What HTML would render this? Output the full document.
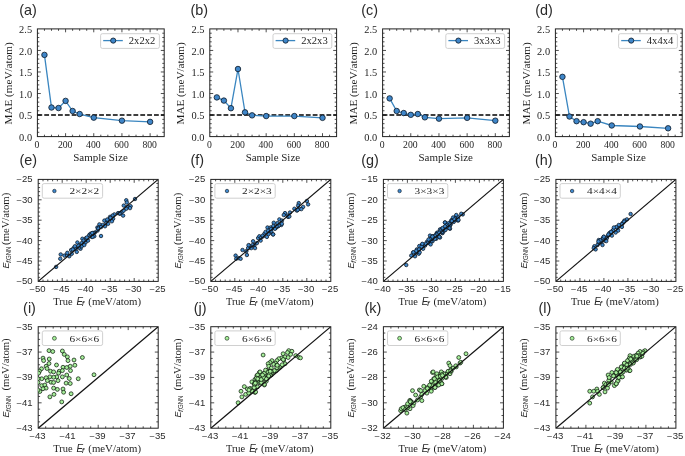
<!DOCTYPE html>
<html><head><meta charset="utf-8"><title>Figure</title>
<style>html,body{margin:0;padding:0;background:#fff;}svg{display:block;filter:blur(0.3px);}</style></head>
<body><svg width="685" height="456" viewBox="0 0 685 456">
<rect width="685" height="456" fill="#fff"/>
<path d="M65.58 136.6v-3.4M65.58 28.9v3.4M93.76 136.6v-3.4M93.76 28.9v3.4M121.93 136.6v-3.4M121.93 28.9v3.4M150.11 136.6v-3.4M150.11 28.9v3.4M44.44 136.6v-1.9M44.44 28.9v1.9M51.49 136.6v-1.9M51.49 28.9v1.9M58.53 136.6v-1.9M58.53 28.9v1.9M72.62 136.6v-1.9M72.62 28.9v1.9M79.67 136.6v-1.9M79.67 28.9v1.9M86.71 136.6v-1.9M86.71 28.9v1.9M100.8 136.6v-1.9M100.8 28.9v1.9M107.84 136.6v-1.9M107.84 28.9v1.9M114.89 136.6v-1.9M114.89 28.9v1.9M128.98 136.6v-1.9M128.98 28.9v1.9M136.02 136.6v-1.9M136.02 28.9v1.9M143.07 136.6v-1.9M143.07 28.9v1.9M157.16 136.6v-1.9M157.16 28.9v1.9M37.4 115.06h3.4M164.2 115.06h-3.4M37.4 93.52h3.4M164.2 93.52h-3.4M37.4 71.98h3.4M164.2 71.98h-3.4M37.4 50.44h3.4M164.2 50.44h-3.4M37.4 132.29h1.9M164.2 132.29h-1.9M37.4 127.98h1.9M164.2 127.98h-1.9M37.4 123.68h1.9M164.2 123.68h-1.9M37.4 119.37h1.9M164.2 119.37h-1.9M37.4 110.75h1.9M164.2 110.75h-1.9M37.4 106.44h1.9M164.2 106.44h-1.9M37.4 102.14h1.9M164.2 102.14h-1.9M37.4 97.83h1.9M164.2 97.83h-1.9M37.4 89.21h1.9M164.2 89.21h-1.9M37.4 84.9h1.9M164.2 84.9h-1.9M37.4 80.6h1.9M164.2 80.6h-1.9M37.4 76.29h1.9M164.2 76.29h-1.9M37.4 67.67h1.9M164.2 67.67h-1.9M37.4 63.36h1.9M164.2 63.36h-1.9M37.4 59.06h1.9M164.2 59.06h-1.9M37.4 54.75h1.9M164.2 54.75h-1.9M37.4 46.13h1.9M164.2 46.13h-1.9M37.4 41.82h1.9M164.2 41.82h-1.9M37.4 37.52h1.9M164.2 37.52h-1.9M37.4 33.21h1.9M164.2 33.21h-1.9" stroke="#222" stroke-width="0.8" fill="none"/>
<rect x="37.4" y="28.9" width="126.8" height="107.7" fill="none" stroke="#222" stroke-width="1.0"/>
<line x1="37.4" y1="115.06" x2="164.2" y2="115.06" stroke="#000" stroke-width="1.45" stroke-dasharray="4.8 2.06"/>
<polyline points="44.44,54.88 51.49,107.52 58.53,108.04 65.58,100.89 72.62,111.01 79.67,114.03 93.76,117.64 121.93,120.66 150.11,121.87" fill="none" stroke="#3a86c0" stroke-width="1.3"/>
<circle cx="44.44" cy="54.88" r="2.75" fill="#3f86c9" stroke="#0b1826" stroke-width="0.8"/>
<circle cx="51.49" cy="107.52" r="2.75" fill="#3f86c9" stroke="#0b1826" stroke-width="0.8"/>
<circle cx="58.53" cy="108.04" r="2.75" fill="#3f86c9" stroke="#0b1826" stroke-width="0.8"/>
<circle cx="65.58" cy="100.89" r="2.75" fill="#3f86c9" stroke="#0b1826" stroke-width="0.8"/>
<circle cx="72.62" cy="111.01" r="2.75" fill="#3f86c9" stroke="#0b1826" stroke-width="0.8"/>
<circle cx="79.67" cy="114.03" r="2.75" fill="#3f86c9" stroke="#0b1826" stroke-width="0.8"/>
<circle cx="93.76" cy="117.64" r="2.75" fill="#3f86c9" stroke="#0b1826" stroke-width="0.8"/>
<circle cx="121.93" cy="120.66" r="2.75" fill="#3f86c9" stroke="#0b1826" stroke-width="0.8"/>
<circle cx="150.11" cy="121.87" r="2.75" fill="#3f86c9" stroke="#0b1826" stroke-width="0.8"/>
<rect x="100.6" y="33.7" width="58.8" height="14.7" rx="1.8" fill="#fff" fill-opacity="0.85" stroke="#c8c8c8" stroke-width="0.85"/>
<line x1="103.2" y1="40.6" x2="122.8" y2="40.6" stroke="#3a86c0" stroke-width="1.3"/>
<circle cx="113.2" cy="40.6" r="2.6" fill="#3f86c9" stroke="#0b1826" stroke-width="0.8"/>
<text x="128.8" y="43.6" font-family="'Liberation Serif', serif" font-size="9.6" text-anchor="start" fill="#1e1e1e" textLength="26.5" lengthAdjust="spacingAndGlyphs" >2x2x2</text>
<text x="37" y="147.7" font-family="'Liberation Serif', serif" font-size="9.3" text-anchor="middle" fill="#1e1e1e" textLength="4.85" lengthAdjust="spacingAndGlyphs" >0</text>
<text x="65.18" y="147.7" font-family="'Liberation Serif', serif" font-size="9.3" text-anchor="middle" fill="#1e1e1e" textLength="14.55" lengthAdjust="spacingAndGlyphs" >200</text>
<text x="93.36" y="147.7" font-family="'Liberation Serif', serif" font-size="9.3" text-anchor="middle" fill="#1e1e1e" textLength="14.55" lengthAdjust="spacingAndGlyphs" >400</text>
<text x="121.53" y="147.7" font-family="'Liberation Serif', serif" font-size="9.3" text-anchor="middle" fill="#1e1e1e" textLength="14.55" lengthAdjust="spacingAndGlyphs" >600</text>
<text x="149.71" y="147.7" font-family="'Liberation Serif', serif" font-size="9.3" text-anchor="middle" fill="#1e1e1e" textLength="14.55" lengthAdjust="spacingAndGlyphs" >800</text>
<text x="32.1" y="140.7" font-family="'Liberation Serif', serif" font-size="9.3" text-anchor="end" fill="#1e1e1e" textLength="13" lengthAdjust="spacingAndGlyphs" >0.0</text>
<text x="32.1" y="119.16" font-family="'Liberation Serif', serif" font-size="9.3" text-anchor="end" fill="#1e1e1e" textLength="13" lengthAdjust="spacingAndGlyphs" >0.5</text>
<text x="32.1" y="97.62" font-family="'Liberation Serif', serif" font-size="9.3" text-anchor="end" fill="#1e1e1e" textLength="13" lengthAdjust="spacingAndGlyphs" >1.0</text>
<text x="32.1" y="76.08" font-family="'Liberation Serif', serif" font-size="9.3" text-anchor="end" fill="#1e1e1e" textLength="13" lengthAdjust="spacingAndGlyphs" >1.5</text>
<text x="32.1" y="54.54" font-family="'Liberation Serif', serif" font-size="9.3" text-anchor="end" fill="#1e1e1e" textLength="13" lengthAdjust="spacingAndGlyphs" >2.0</text>
<text x="32.1" y="33" font-family="'Liberation Serif', serif" font-size="9.3" text-anchor="end" fill="#1e1e1e" textLength="13" lengthAdjust="spacingAndGlyphs" >2.5</text>
<text x="100.5" y="160.9" font-family="'Liberation Serif', serif" font-size="9.8" text-anchor="middle" fill="#1e1e1e" textLength="54.5" lengthAdjust="spacingAndGlyphs" >Sample Size</text>
<g transform="translate(11.8,83.45) rotate(-90)">
<text x="0" y="0" font-family="'Liberation Serif', serif" font-size="9.4" text-anchor="middle" fill="#1e1e1e" textLength="82.2" lengthAdjust="spacingAndGlyphs" >MAE (meV/atom)</text>
</g>
<text x="19.2" y="15.3" font-family="'Liberation Sans', sans-serif" font-size="14.4" text-anchor="start" fill="#2a2a2a" >(a)</text>
<path d="M237.98 136.6v-3.4M237.98 28.9v3.4M266.16 136.6v-3.4M266.16 28.9v3.4M294.33 136.6v-3.4M294.33 28.9v3.4M322.51 136.6v-3.4M322.51 28.9v3.4M216.84 136.6v-1.9M216.84 28.9v1.9M223.89 136.6v-1.9M223.89 28.9v1.9M230.93 136.6v-1.9M230.93 28.9v1.9M245.02 136.6v-1.9M245.02 28.9v1.9M252.07 136.6v-1.9M252.07 28.9v1.9M259.11 136.6v-1.9M259.11 28.9v1.9M273.2 136.6v-1.9M273.2 28.9v1.9M280.24 136.6v-1.9M280.24 28.9v1.9M287.29 136.6v-1.9M287.29 28.9v1.9M301.38 136.6v-1.9M301.38 28.9v1.9M308.42 136.6v-1.9M308.42 28.9v1.9M315.47 136.6v-1.9M315.47 28.9v1.9M329.56 136.6v-1.9M329.56 28.9v1.9M209.8 115.06h3.4M336.6 115.06h-3.4M209.8 93.52h3.4M336.6 93.52h-3.4M209.8 71.98h3.4M336.6 71.98h-3.4M209.8 50.44h3.4M336.6 50.44h-3.4M209.8 132.29h1.9M336.6 132.29h-1.9M209.8 127.98h1.9M336.6 127.98h-1.9M209.8 123.68h1.9M336.6 123.68h-1.9M209.8 119.37h1.9M336.6 119.37h-1.9M209.8 110.75h1.9M336.6 110.75h-1.9M209.8 106.44h1.9M336.6 106.44h-1.9M209.8 102.14h1.9M336.6 102.14h-1.9M209.8 97.83h1.9M336.6 97.83h-1.9M209.8 89.21h1.9M336.6 89.21h-1.9M209.8 84.9h1.9M336.6 84.9h-1.9M209.8 80.6h1.9M336.6 80.6h-1.9M209.8 76.29h1.9M336.6 76.29h-1.9M209.8 67.67h1.9M336.6 67.67h-1.9M209.8 63.36h1.9M336.6 63.36h-1.9M209.8 59.06h1.9M336.6 59.06h-1.9M209.8 54.75h1.9M336.6 54.75h-1.9M209.8 46.13h1.9M336.6 46.13h-1.9M209.8 41.82h1.9M336.6 41.82h-1.9M209.8 37.52h1.9M336.6 37.52h-1.9M209.8 33.21h1.9M336.6 33.21h-1.9" stroke="#222" stroke-width="0.8" fill="none"/>
<rect x="209.8" y="28.9" width="126.8" height="107.7" fill="none" stroke="#222" stroke-width="1.0"/>
<line x1="209.8" y1="115.06" x2="336.6" y2="115.06" stroke="#000" stroke-width="1.45" stroke-dasharray="4.8 2.06"/>
<polyline points="216.84,97.4 223.89,100.59 230.93,108.21 237.98,69.01 245.02,112.35 252.07,115.36 266.16,116.05 294.33,116.05 322.51,117.86" fill="none" stroke="#3a86c0" stroke-width="1.3"/>
<circle cx="216.84" cy="97.4" r="2.75" fill="#3f86c9" stroke="#0b1826" stroke-width="0.8"/>
<circle cx="223.89" cy="100.59" r="2.75" fill="#3f86c9" stroke="#0b1826" stroke-width="0.8"/>
<circle cx="230.93" cy="108.21" r="2.75" fill="#3f86c9" stroke="#0b1826" stroke-width="0.8"/>
<circle cx="237.98" cy="69.01" r="2.75" fill="#3f86c9" stroke="#0b1826" stroke-width="0.8"/>
<circle cx="245.02" cy="112.35" r="2.75" fill="#3f86c9" stroke="#0b1826" stroke-width="0.8"/>
<circle cx="252.07" cy="115.36" r="2.75" fill="#3f86c9" stroke="#0b1826" stroke-width="0.8"/>
<circle cx="266.16" cy="116.05" r="2.75" fill="#3f86c9" stroke="#0b1826" stroke-width="0.8"/>
<circle cx="294.33" cy="116.05" r="2.75" fill="#3f86c9" stroke="#0b1826" stroke-width="0.8"/>
<circle cx="322.51" cy="117.86" r="2.75" fill="#3f86c9" stroke="#0b1826" stroke-width="0.8"/>
<rect x="273" y="33.7" width="58.8" height="14.7" rx="1.8" fill="#fff" fill-opacity="0.85" stroke="#c8c8c8" stroke-width="0.85"/>
<line x1="275.6" y1="40.6" x2="295.2" y2="40.6" stroke="#3a86c0" stroke-width="1.3"/>
<circle cx="285.6" cy="40.6" r="2.6" fill="#3f86c9" stroke="#0b1826" stroke-width="0.8"/>
<text x="301.2" y="43.6" font-family="'Liberation Serif', serif" font-size="9.6" text-anchor="start" fill="#1e1e1e" textLength="26.5" lengthAdjust="spacingAndGlyphs" >2x2x3</text>
<text x="209.4" y="147.7" font-family="'Liberation Serif', serif" font-size="9.3" text-anchor="middle" fill="#1e1e1e" textLength="4.85" lengthAdjust="spacingAndGlyphs" >0</text>
<text x="237.58" y="147.7" font-family="'Liberation Serif', serif" font-size="9.3" text-anchor="middle" fill="#1e1e1e" textLength="14.55" lengthAdjust="spacingAndGlyphs" >200</text>
<text x="265.76" y="147.7" font-family="'Liberation Serif', serif" font-size="9.3" text-anchor="middle" fill="#1e1e1e" textLength="14.55" lengthAdjust="spacingAndGlyphs" >400</text>
<text x="293.93" y="147.7" font-family="'Liberation Serif', serif" font-size="9.3" text-anchor="middle" fill="#1e1e1e" textLength="14.55" lengthAdjust="spacingAndGlyphs" >600</text>
<text x="322.11" y="147.7" font-family="'Liberation Serif', serif" font-size="9.3" text-anchor="middle" fill="#1e1e1e" textLength="14.55" lengthAdjust="spacingAndGlyphs" >800</text>
<text x="204.5" y="140.7" font-family="'Liberation Serif', serif" font-size="9.3" text-anchor="end" fill="#1e1e1e" textLength="13" lengthAdjust="spacingAndGlyphs" >0.0</text>
<text x="204.5" y="119.16" font-family="'Liberation Serif', serif" font-size="9.3" text-anchor="end" fill="#1e1e1e" textLength="13" lengthAdjust="spacingAndGlyphs" >0.5</text>
<text x="204.5" y="97.62" font-family="'Liberation Serif', serif" font-size="9.3" text-anchor="end" fill="#1e1e1e" textLength="13" lengthAdjust="spacingAndGlyphs" >1.0</text>
<text x="204.5" y="76.08" font-family="'Liberation Serif', serif" font-size="9.3" text-anchor="end" fill="#1e1e1e" textLength="13" lengthAdjust="spacingAndGlyphs" >1.5</text>
<text x="204.5" y="54.54" font-family="'Liberation Serif', serif" font-size="9.3" text-anchor="end" fill="#1e1e1e" textLength="13" lengthAdjust="spacingAndGlyphs" >2.0</text>
<text x="204.5" y="33" font-family="'Liberation Serif', serif" font-size="9.3" text-anchor="end" fill="#1e1e1e" textLength="13" lengthAdjust="spacingAndGlyphs" >2.5</text>
<text x="272.9" y="160.9" font-family="'Liberation Serif', serif" font-size="9.8" text-anchor="middle" fill="#1e1e1e" textLength="54.5" lengthAdjust="spacingAndGlyphs" >Sample Size</text>
<g transform="translate(184.2,83.45) rotate(-90)">
<text x="0" y="0" font-family="'Liberation Serif', serif" font-size="9.4" text-anchor="middle" fill="#1e1e1e" textLength="82.2" lengthAdjust="spacingAndGlyphs" >MAE (meV/atom)</text>
</g>
<text x="190.4" y="15.3" font-family="'Liberation Sans', sans-serif" font-size="14.4" text-anchor="start" fill="#2a2a2a" >(b)</text>
<path d="M410.78 136.6v-3.4M410.78 28.9v3.4M438.96 136.6v-3.4M438.96 28.9v3.4M467.13 136.6v-3.4M467.13 28.9v3.4M495.31 136.6v-3.4M495.31 28.9v3.4M389.64 136.6v-1.9M389.64 28.9v1.9M396.69 136.6v-1.9M396.69 28.9v1.9M403.73 136.6v-1.9M403.73 28.9v1.9M417.82 136.6v-1.9M417.82 28.9v1.9M424.87 136.6v-1.9M424.87 28.9v1.9M431.91 136.6v-1.9M431.91 28.9v1.9M446 136.6v-1.9M446 28.9v1.9M453.04 136.6v-1.9M453.04 28.9v1.9M460.09 136.6v-1.9M460.09 28.9v1.9M474.18 136.6v-1.9M474.18 28.9v1.9M481.22 136.6v-1.9M481.22 28.9v1.9M488.27 136.6v-1.9M488.27 28.9v1.9M502.36 136.6v-1.9M502.36 28.9v1.9M382.6 115.06h3.4M509.4 115.06h-3.4M382.6 93.52h3.4M509.4 93.52h-3.4M382.6 71.98h3.4M509.4 71.98h-3.4M382.6 50.44h3.4M509.4 50.44h-3.4M382.6 132.29h1.9M509.4 132.29h-1.9M382.6 127.98h1.9M509.4 127.98h-1.9M382.6 123.68h1.9M509.4 123.68h-1.9M382.6 119.37h1.9M509.4 119.37h-1.9M382.6 110.75h1.9M509.4 110.75h-1.9M382.6 106.44h1.9M509.4 106.44h-1.9M382.6 102.14h1.9M509.4 102.14h-1.9M382.6 97.83h1.9M509.4 97.83h-1.9M382.6 89.21h1.9M509.4 89.21h-1.9M382.6 84.9h1.9M509.4 84.9h-1.9M382.6 80.6h1.9M509.4 80.6h-1.9M382.6 76.29h1.9M509.4 76.29h-1.9M382.6 67.67h1.9M509.4 67.67h-1.9M382.6 63.36h1.9M509.4 63.36h-1.9M382.6 59.06h1.9M509.4 59.06h-1.9M382.6 54.75h1.9M509.4 54.75h-1.9M382.6 46.13h1.9M509.4 46.13h-1.9M382.6 41.82h1.9M509.4 41.82h-1.9M382.6 37.52h1.9M509.4 37.52h-1.9M382.6 33.21h1.9M509.4 33.21h-1.9" stroke="#222" stroke-width="0.8" fill="none"/>
<rect x="382.6" y="28.9" width="126.8" height="107.7" fill="none" stroke="#222" stroke-width="1.0"/>
<line x1="382.6" y1="115.06" x2="509.4" y2="115.06" stroke="#000" stroke-width="1.45" stroke-dasharray="4.8 2.06"/>
<polyline points="389.64,98.39 396.69,111.01 403.73,113.04 410.78,114.84 417.82,114.03 424.87,117.34 438.96,118.64 467.13,117.86 495.31,120.66" fill="none" stroke="#3a86c0" stroke-width="1.3"/>
<circle cx="389.64" cy="98.39" r="2.75" fill="#3f86c9" stroke="#0b1826" stroke-width="0.8"/>
<circle cx="396.69" cy="111.01" r="2.75" fill="#3f86c9" stroke="#0b1826" stroke-width="0.8"/>
<circle cx="403.73" cy="113.04" r="2.75" fill="#3f86c9" stroke="#0b1826" stroke-width="0.8"/>
<circle cx="410.78" cy="114.84" r="2.75" fill="#3f86c9" stroke="#0b1826" stroke-width="0.8"/>
<circle cx="417.82" cy="114.03" r="2.75" fill="#3f86c9" stroke="#0b1826" stroke-width="0.8"/>
<circle cx="424.87" cy="117.34" r="2.75" fill="#3f86c9" stroke="#0b1826" stroke-width="0.8"/>
<circle cx="438.96" cy="118.64" r="2.75" fill="#3f86c9" stroke="#0b1826" stroke-width="0.8"/>
<circle cx="467.13" cy="117.86" r="2.75" fill="#3f86c9" stroke="#0b1826" stroke-width="0.8"/>
<circle cx="495.31" cy="120.66" r="2.75" fill="#3f86c9" stroke="#0b1826" stroke-width="0.8"/>
<rect x="445.8" y="33.7" width="58.8" height="14.7" rx="1.8" fill="#fff" fill-opacity="0.85" stroke="#c8c8c8" stroke-width="0.85"/>
<line x1="448.4" y1="40.6" x2="468" y2="40.6" stroke="#3a86c0" stroke-width="1.3"/>
<circle cx="458.4" cy="40.6" r="2.6" fill="#3f86c9" stroke="#0b1826" stroke-width="0.8"/>
<text x="474" y="43.6" font-family="'Liberation Serif', serif" font-size="9.6" text-anchor="start" fill="#1e1e1e" textLength="26.5" lengthAdjust="spacingAndGlyphs" >3x3x3</text>
<text x="382.2" y="147.7" font-family="'Liberation Serif', serif" font-size="9.3" text-anchor="middle" fill="#1e1e1e" textLength="4.85" lengthAdjust="spacingAndGlyphs" >0</text>
<text x="410.38" y="147.7" font-family="'Liberation Serif', serif" font-size="9.3" text-anchor="middle" fill="#1e1e1e" textLength="14.55" lengthAdjust="spacingAndGlyphs" >200</text>
<text x="438.56" y="147.7" font-family="'Liberation Serif', serif" font-size="9.3" text-anchor="middle" fill="#1e1e1e" textLength="14.55" lengthAdjust="spacingAndGlyphs" >400</text>
<text x="466.73" y="147.7" font-family="'Liberation Serif', serif" font-size="9.3" text-anchor="middle" fill="#1e1e1e" textLength="14.55" lengthAdjust="spacingAndGlyphs" >600</text>
<text x="494.91" y="147.7" font-family="'Liberation Serif', serif" font-size="9.3" text-anchor="middle" fill="#1e1e1e" textLength="14.55" lengthAdjust="spacingAndGlyphs" >800</text>
<text x="377.3" y="140.7" font-family="'Liberation Serif', serif" font-size="9.3" text-anchor="end" fill="#1e1e1e" textLength="13" lengthAdjust="spacingAndGlyphs" >0.0</text>
<text x="377.3" y="119.16" font-family="'Liberation Serif', serif" font-size="9.3" text-anchor="end" fill="#1e1e1e" textLength="13" lengthAdjust="spacingAndGlyphs" >0.5</text>
<text x="377.3" y="97.62" font-family="'Liberation Serif', serif" font-size="9.3" text-anchor="end" fill="#1e1e1e" textLength="13" lengthAdjust="spacingAndGlyphs" >1.0</text>
<text x="377.3" y="76.08" font-family="'Liberation Serif', serif" font-size="9.3" text-anchor="end" fill="#1e1e1e" textLength="13" lengthAdjust="spacingAndGlyphs" >1.5</text>
<text x="377.3" y="54.54" font-family="'Liberation Serif', serif" font-size="9.3" text-anchor="end" fill="#1e1e1e" textLength="13" lengthAdjust="spacingAndGlyphs" >2.0</text>
<text x="377.3" y="33" font-family="'Liberation Serif', serif" font-size="9.3" text-anchor="end" fill="#1e1e1e" textLength="13" lengthAdjust="spacingAndGlyphs" >2.5</text>
<text x="445.7" y="160.9" font-family="'Liberation Serif', serif" font-size="9.8" text-anchor="middle" fill="#1e1e1e" textLength="54.5" lengthAdjust="spacingAndGlyphs" >Sample Size</text>
<g transform="translate(357,83.45) rotate(-90)">
<text x="0" y="0" font-family="'Liberation Serif', serif" font-size="9.4" text-anchor="middle" fill="#1e1e1e" textLength="82.2" lengthAdjust="spacingAndGlyphs" >MAE (meV/atom)</text>
</g>
<text x="361.3" y="15.3" font-family="'Liberation Sans', sans-serif" font-size="14.4" text-anchor="start" fill="#2a2a2a" >(c)</text>
<path d="M583.58 136.6v-3.4M583.58 28.9v3.4M611.76 136.6v-3.4M611.76 28.9v3.4M639.93 136.6v-3.4M639.93 28.9v3.4M668.11 136.6v-3.4M668.11 28.9v3.4M562.44 136.6v-1.9M562.44 28.9v1.9M569.49 136.6v-1.9M569.49 28.9v1.9M576.53 136.6v-1.9M576.53 28.9v1.9M590.62 136.6v-1.9M590.62 28.9v1.9M597.67 136.6v-1.9M597.67 28.9v1.9M604.71 136.6v-1.9M604.71 28.9v1.9M618.8 136.6v-1.9M618.8 28.9v1.9M625.84 136.6v-1.9M625.84 28.9v1.9M632.89 136.6v-1.9M632.89 28.9v1.9M646.98 136.6v-1.9M646.98 28.9v1.9M654.02 136.6v-1.9M654.02 28.9v1.9M661.07 136.6v-1.9M661.07 28.9v1.9M675.16 136.6v-1.9M675.16 28.9v1.9M555.4 115.06h3.4M682.2 115.06h-3.4M555.4 93.52h3.4M682.2 93.52h-3.4M555.4 71.98h3.4M682.2 71.98h-3.4M555.4 50.44h3.4M682.2 50.44h-3.4M555.4 132.29h1.9M682.2 132.29h-1.9M555.4 127.98h1.9M682.2 127.98h-1.9M555.4 123.68h1.9M682.2 123.68h-1.9M555.4 119.37h1.9M682.2 119.37h-1.9M555.4 110.75h1.9M682.2 110.75h-1.9M555.4 106.44h1.9M682.2 106.44h-1.9M555.4 102.14h1.9M682.2 102.14h-1.9M555.4 97.83h1.9M682.2 97.83h-1.9M555.4 89.21h1.9M682.2 89.21h-1.9M555.4 84.9h1.9M682.2 84.9h-1.9M555.4 80.6h1.9M682.2 80.6h-1.9M555.4 76.29h1.9M682.2 76.29h-1.9M555.4 67.67h1.9M682.2 67.67h-1.9M555.4 63.36h1.9M682.2 63.36h-1.9M555.4 59.06h1.9M682.2 59.06h-1.9M555.4 54.75h1.9M682.2 54.75h-1.9M555.4 46.13h1.9M682.2 46.13h-1.9M555.4 41.82h1.9M682.2 41.82h-1.9M555.4 37.52h1.9M682.2 37.52h-1.9M555.4 33.21h1.9M682.2 33.21h-1.9" stroke="#222" stroke-width="0.8" fill="none"/>
<rect x="555.4" y="28.9" width="126.8" height="107.7" fill="none" stroke="#222" stroke-width="1.0"/>
<line x1="555.4" y1="115.06" x2="682.2" y2="115.06" stroke="#000" stroke-width="1.45" stroke-dasharray="4.8 2.06"/>
<polyline points="562.44,76.85 569.49,116.52 576.53,121.18 583.58,122.17 590.62,123.68 597.67,121.18 611.76,125.49 639.93,126.48 668.11,128.29" fill="none" stroke="#3a86c0" stroke-width="1.3"/>
<circle cx="562.44" cy="76.85" r="2.75" fill="#3f86c9" stroke="#0b1826" stroke-width="0.8"/>
<circle cx="569.49" cy="116.52" r="2.75" fill="#3f86c9" stroke="#0b1826" stroke-width="0.8"/>
<circle cx="576.53" cy="121.18" r="2.75" fill="#3f86c9" stroke="#0b1826" stroke-width="0.8"/>
<circle cx="583.58" cy="122.17" r="2.75" fill="#3f86c9" stroke="#0b1826" stroke-width="0.8"/>
<circle cx="590.62" cy="123.68" r="2.75" fill="#3f86c9" stroke="#0b1826" stroke-width="0.8"/>
<circle cx="597.67" cy="121.18" r="2.75" fill="#3f86c9" stroke="#0b1826" stroke-width="0.8"/>
<circle cx="611.76" cy="125.49" r="2.75" fill="#3f86c9" stroke="#0b1826" stroke-width="0.8"/>
<circle cx="639.93" cy="126.48" r="2.75" fill="#3f86c9" stroke="#0b1826" stroke-width="0.8"/>
<circle cx="668.11" cy="128.29" r="2.75" fill="#3f86c9" stroke="#0b1826" stroke-width="0.8"/>
<rect x="618.6" y="33.7" width="58.8" height="14.7" rx="1.8" fill="#fff" fill-opacity="0.85" stroke="#c8c8c8" stroke-width="0.85"/>
<line x1="621.2" y1="40.6" x2="640.8" y2="40.6" stroke="#3a86c0" stroke-width="1.3"/>
<circle cx="631.2" cy="40.6" r="2.6" fill="#3f86c9" stroke="#0b1826" stroke-width="0.8"/>
<text x="646.8" y="43.6" font-family="'Liberation Serif', serif" font-size="9.6" text-anchor="start" fill="#1e1e1e" textLength="26.5" lengthAdjust="spacingAndGlyphs" >4x4x4</text>
<text x="555" y="147.7" font-family="'Liberation Serif', serif" font-size="9.3" text-anchor="middle" fill="#1e1e1e" textLength="4.85" lengthAdjust="spacingAndGlyphs" >0</text>
<text x="583.18" y="147.7" font-family="'Liberation Serif', serif" font-size="9.3" text-anchor="middle" fill="#1e1e1e" textLength="14.55" lengthAdjust="spacingAndGlyphs" >200</text>
<text x="611.36" y="147.7" font-family="'Liberation Serif', serif" font-size="9.3" text-anchor="middle" fill="#1e1e1e" textLength="14.55" lengthAdjust="spacingAndGlyphs" >400</text>
<text x="639.53" y="147.7" font-family="'Liberation Serif', serif" font-size="9.3" text-anchor="middle" fill="#1e1e1e" textLength="14.55" lengthAdjust="spacingAndGlyphs" >600</text>
<text x="667.71" y="147.7" font-family="'Liberation Serif', serif" font-size="9.3" text-anchor="middle" fill="#1e1e1e" textLength="14.55" lengthAdjust="spacingAndGlyphs" >800</text>
<text x="550.1" y="140.7" font-family="'Liberation Serif', serif" font-size="9.3" text-anchor="end" fill="#1e1e1e" textLength="13" lengthAdjust="spacingAndGlyphs" >0.0</text>
<text x="550.1" y="119.16" font-family="'Liberation Serif', serif" font-size="9.3" text-anchor="end" fill="#1e1e1e" textLength="13" lengthAdjust="spacingAndGlyphs" >0.5</text>
<text x="550.1" y="97.62" font-family="'Liberation Serif', serif" font-size="9.3" text-anchor="end" fill="#1e1e1e" textLength="13" lengthAdjust="spacingAndGlyphs" >1.0</text>
<text x="550.1" y="76.08" font-family="'Liberation Serif', serif" font-size="9.3" text-anchor="end" fill="#1e1e1e" textLength="13" lengthAdjust="spacingAndGlyphs" >1.5</text>
<text x="550.1" y="54.54" font-family="'Liberation Serif', serif" font-size="9.3" text-anchor="end" fill="#1e1e1e" textLength="13" lengthAdjust="spacingAndGlyphs" >2.0</text>
<text x="550.1" y="33" font-family="'Liberation Serif', serif" font-size="9.3" text-anchor="end" fill="#1e1e1e" textLength="13" lengthAdjust="spacingAndGlyphs" >2.5</text>
<text x="618.5" y="160.9" font-family="'Liberation Serif', serif" font-size="9.8" text-anchor="middle" fill="#1e1e1e" textLength="54.5" lengthAdjust="spacingAndGlyphs" >Sample Size</text>
<g transform="translate(529.8,83.45) rotate(-90)">
<text x="0" y="0" font-family="'Liberation Serif', serif" font-size="9.4" text-anchor="middle" fill="#1e1e1e" textLength="82.2" lengthAdjust="spacingAndGlyphs" >MAE (meV/atom)</text>
</g>
<text x="535.2" y="15.3" font-family="'Liberation Sans', sans-serif" font-size="14.4" text-anchor="start" fill="#2a2a2a" >(d)</text>
<clipPath id="c179_0"><rect x="38.2" y="179.4" width="120" height="102"/></clipPath>
<path d="M62.2 281.4v-3.4M62.2 179.4v3.4M86.2 281.4v-3.4M86.2 179.4v3.4M110.2 281.4v-3.4M110.2 179.4v3.4M134.2 281.4v-3.4M134.2 179.4v3.4M43 281.4v-1.9M43 179.4v1.9M47.8 281.4v-1.9M47.8 179.4v1.9M52.6 281.4v-1.9M52.6 179.4v1.9M57.4 281.4v-1.9M57.4 179.4v1.9M67 281.4v-1.9M67 179.4v1.9M71.8 281.4v-1.9M71.8 179.4v1.9M76.6 281.4v-1.9M76.6 179.4v1.9M81.4 281.4v-1.9M81.4 179.4v1.9M91 281.4v-1.9M91 179.4v1.9M95.8 281.4v-1.9M95.8 179.4v1.9M100.6 281.4v-1.9M100.6 179.4v1.9M105.4 281.4v-1.9M105.4 179.4v1.9M115 281.4v-1.9M115 179.4v1.9M119.8 281.4v-1.9M119.8 179.4v1.9M124.6 281.4v-1.9M124.6 179.4v1.9M129.4 281.4v-1.9M129.4 179.4v1.9M139 281.4v-1.9M139 179.4v1.9M143.8 281.4v-1.9M143.8 179.4v1.9M148.6 281.4v-1.9M148.6 179.4v1.9M153.4 281.4v-1.9M153.4 179.4v1.9M38.2 261h3.4M158.2 261h-3.4M38.2 240.6h3.4M158.2 240.6h-3.4M38.2 220.2h3.4M158.2 220.2h-3.4M38.2 199.8h3.4M158.2 199.8h-3.4M38.2 277.32h1.9M158.2 277.32h-1.9M38.2 273.24h1.9M158.2 273.24h-1.9M38.2 269.16h1.9M158.2 269.16h-1.9M38.2 265.08h1.9M158.2 265.08h-1.9M38.2 256.92h1.9M158.2 256.92h-1.9M38.2 252.84h1.9M158.2 252.84h-1.9M38.2 248.76h1.9M158.2 248.76h-1.9M38.2 244.68h1.9M158.2 244.68h-1.9M38.2 236.52h1.9M158.2 236.52h-1.9M38.2 232.44h1.9M158.2 232.44h-1.9M38.2 228.36h1.9M158.2 228.36h-1.9M38.2 224.28h1.9M158.2 224.28h-1.9M38.2 216.12h1.9M158.2 216.12h-1.9M38.2 212.04h1.9M158.2 212.04h-1.9M38.2 207.96h1.9M158.2 207.96h-1.9M38.2 203.88h1.9M158.2 203.88h-1.9M38.2 195.72h1.9M158.2 195.72h-1.9M38.2 191.64h1.9M158.2 191.64h-1.9M38.2 187.56h1.9M158.2 187.56h-1.9M38.2 183.48h1.9M158.2 183.48h-1.9" stroke="#222" stroke-width="0.8" fill="none"/>
<rect x="38.2" y="179.4" width="120" height="102" fill="none" stroke="#222" stroke-width="1.0"/>
<g clip-path="url(#c179_0)">
<circle cx="56.12" cy="266.88" r="1.75" fill="#3f88cc" stroke="#0a1420" stroke-width="0.75"/>
<circle cx="60.25" cy="258.75" r="1.75" fill="#3f88cc" stroke="#0a1420" stroke-width="0.75"/>
<circle cx="64.5" cy="255.62" r="1.75" fill="#3f88cc" stroke="#0a1420" stroke-width="0.75"/>
<circle cx="67" cy="255" r="1.75" fill="#3f88cc" stroke="#0a1420" stroke-width="0.75"/>
<circle cx="69.25" cy="256.25" r="1.75" fill="#3f88cc" stroke="#0a1420" stroke-width="0.75"/>
<circle cx="71.75" cy="253.75" r="1.75" fill="#3f88cc" stroke="#0a1420" stroke-width="0.75"/>
<circle cx="71.12" cy="250" r="1.75" fill="#3f88cc" stroke="#0a1420" stroke-width="0.75"/>
<circle cx="73.62" cy="248.12" r="1.75" fill="#3f88cc" stroke="#0a1420" stroke-width="0.75"/>
<circle cx="75.5" cy="249.38" r="1.75" fill="#3f88cc" stroke="#0a1420" stroke-width="0.75"/>
<circle cx="76.75" cy="251.88" r="1.75" fill="#3f88cc" stroke="#0a1420" stroke-width="0.75"/>
<circle cx="78" cy="246.88" r="1.75" fill="#3f88cc" stroke="#0a1420" stroke-width="0.75"/>
<circle cx="77.38" cy="242.5" r="1.75" fill="#3f88cc" stroke="#0a1420" stroke-width="0.75"/>
<circle cx="80.5" cy="248.75" r="1.75" fill="#3f88cc" stroke="#0a1420" stroke-width="0.75"/>
<circle cx="79.88" cy="245" r="1.75" fill="#3f88cc" stroke="#0a1420" stroke-width="0.75"/>
<circle cx="81.75" cy="243.12" r="1.75" fill="#3f88cc" stroke="#0a1420" stroke-width="0.75"/>
<circle cx="82.38" cy="238.75" r="1.75" fill="#3f88cc" stroke="#0a1420" stroke-width="0.75"/>
<circle cx="83.62" cy="240.62" r="1.75" fill="#3f88cc" stroke="#0a1420" stroke-width="0.75"/>
<circle cx="85.5" cy="242.5" r="1.75" fill="#3f88cc" stroke="#0a1420" stroke-width="0.75"/>
<circle cx="86.12" cy="238.12" r="1.75" fill="#3f88cc" stroke="#0a1420" stroke-width="0.75"/>
<circle cx="88" cy="240.62" r="1.75" fill="#3f88cc" stroke="#0a1420" stroke-width="0.75"/>
<circle cx="89.25" cy="235" r="1.75" fill="#3f88cc" stroke="#0a1420" stroke-width="0.75"/>
<circle cx="90.5" cy="233.75" r="1.75" fill="#3f88cc" stroke="#0a1420" stroke-width="0.75"/>
<circle cx="91.75" cy="236.88" r="1.75" fill="#3f88cc" stroke="#0a1420" stroke-width="0.75"/>
<circle cx="93" cy="233.12" r="1.75" fill="#3f88cc" stroke="#0a1420" stroke-width="0.75"/>
<circle cx="94.25" cy="236.25" r="1.75" fill="#3f88cc" stroke="#0a1420" stroke-width="0.75"/>
<circle cx="94.88" cy="232.5" r="1.75" fill="#3f88cc" stroke="#0a1420" stroke-width="0.75"/>
<circle cx="97.38" cy="227.5" r="1.75" fill="#3f88cc" stroke="#0a1420" stroke-width="0.75"/>
<circle cx="74.88" cy="246.25" r="1.75" fill="#3f88cc" stroke="#0a1420" stroke-width="0.75"/>
<circle cx="79.25" cy="247.5" r="1.75" fill="#3f88cc" stroke="#0a1420" stroke-width="0.75"/>
<circle cx="81.75" cy="246.25" r="1.75" fill="#3f88cc" stroke="#0a1420" stroke-width="0.75"/>
<circle cx="84.25" cy="245" r="1.75" fill="#3f88cc" stroke="#0a1420" stroke-width="0.75"/>
<circle cx="135" cy="199" r="1.75" fill="#3f88cc" stroke="#0a1420" stroke-width="0.75"/>
<circle cx="126.25" cy="200.25" r="1.75" fill="#3f88cc" stroke="#0a1420" stroke-width="0.75"/>
<circle cx="126.88" cy="202.5" r="1.75" fill="#3f88cc" stroke="#0a1420" stroke-width="0.75"/>
<circle cx="123.75" cy="205.62" r="1.75" fill="#3f88cc" stroke="#0a1420" stroke-width="0.75"/>
<circle cx="127.5" cy="206.88" r="1.75" fill="#3f88cc" stroke="#0a1420" stroke-width="0.75"/>
<circle cx="130.62" cy="206.25" r="1.75" fill="#3f88cc" stroke="#0a1420" stroke-width="0.75"/>
<circle cx="130" cy="208.12" r="1.75" fill="#3f88cc" stroke="#0a1420" stroke-width="0.75"/>
<circle cx="126.25" cy="208.75" r="1.75" fill="#3f88cc" stroke="#0a1420" stroke-width="0.75"/>
<circle cx="121.88" cy="211.88" r="1.75" fill="#3f88cc" stroke="#0a1420" stroke-width="0.75"/>
<circle cx="120" cy="213.75" r="1.75" fill="#3f88cc" stroke="#0a1420" stroke-width="0.75"/>
<circle cx="123.12" cy="215.62" r="1.75" fill="#3f88cc" stroke="#0a1420" stroke-width="0.75"/>
<circle cx="118.12" cy="213.12" r="1.75" fill="#3f88cc" stroke="#0a1420" stroke-width="0.75"/>
<circle cx="114.38" cy="214.38" r="1.75" fill="#3f88cc" stroke="#0a1420" stroke-width="0.75"/>
<circle cx="112.5" cy="215.62" r="1.75" fill="#3f88cc" stroke="#0a1420" stroke-width="0.75"/>
<circle cx="110" cy="216.88" r="1.75" fill="#3f88cc" stroke="#0a1420" stroke-width="0.75"/>
<circle cx="110.62" cy="218.75" r="1.75" fill="#3f88cc" stroke="#0a1420" stroke-width="0.75"/>
<circle cx="113.12" cy="218.75" r="1.75" fill="#3f88cc" stroke="#0a1420" stroke-width="0.75"/>
<circle cx="111.88" cy="221.25" r="1.75" fill="#3f88cc" stroke="#0a1420" stroke-width="0.75"/>
<circle cx="107.5" cy="220" r="1.75" fill="#3f88cc" stroke="#0a1420" stroke-width="0.75"/>
<circle cx="104.38" cy="220.62" r="1.75" fill="#3f88cc" stroke="#0a1420" stroke-width="0.75"/>
<circle cx="106.25" cy="223.12" r="1.75" fill="#3f88cc" stroke="#0a1420" stroke-width="0.75"/>
<circle cx="108.12" cy="223.75" r="1.75" fill="#3f88cc" stroke="#0a1420" stroke-width="0.75"/>
<circle cx="105" cy="226.25" r="1.75" fill="#3f88cc" stroke="#0a1420" stroke-width="0.75"/>
<circle cx="102.5" cy="225" r="1.75" fill="#3f88cc" stroke="#0a1420" stroke-width="0.75"/>
<circle cx="99.38" cy="224.38" r="1.75" fill="#3f88cc" stroke="#0a1420" stroke-width="0.75"/>
<circle cx="98.75" cy="227.5" r="1.75" fill="#3f88cc" stroke="#0a1420" stroke-width="0.75"/>
<circle cx="97.5" cy="230.62" r="1.75" fill="#3f88cc" stroke="#0a1420" stroke-width="0.75"/>
<circle cx="101" cy="236" r="1.75" fill="#3f88cc" stroke="#0a1420" stroke-width="0.75"/>
<circle cx="93.75" cy="233.12" r="1.75" fill="#3f88cc" stroke="#0a1420" stroke-width="0.75"/>
<circle cx="91.25" cy="234.38" r="1.75" fill="#3f88cc" stroke="#0a1420" stroke-width="0.75"/>
<circle cx="92.5" cy="236.88" r="1.75" fill="#3f88cc" stroke="#0a1420" stroke-width="0.75"/>
<circle cx="92.25" cy="232.99" r="1.75" fill="#3f88cc" stroke="#0a1420" stroke-width="0.75"/>
<circle cx="119.5" cy="213.21" r="1.75" fill="#3f88cc" stroke="#0a1420" stroke-width="0.75"/>
<circle cx="60.73" cy="254.47" r="1.75" fill="#3f88cc" stroke="#0a1420" stroke-width="0.75"/>
<circle cx="67.3" cy="252.84" r="1.75" fill="#3f88cc" stroke="#0a1420" stroke-width="0.75"/>
<circle cx="98.41" cy="228.51" r="1.75" fill="#3f88cc" stroke="#0a1420" stroke-width="0.75"/>
<circle cx="86.86" cy="237.47" r="1.75" fill="#3f88cc" stroke="#0a1420" stroke-width="0.75"/>
<circle cx="107.21" cy="219.54" r="1.75" fill="#3f88cc" stroke="#0a1420" stroke-width="0.75"/>
<circle cx="72.75" cy="249.48" r="1.75" fill="#3f88cc" stroke="#0a1420" stroke-width="0.75"/>
<circle cx="78.43" cy="245.8" r="1.75" fill="#3f88cc" stroke="#0a1420" stroke-width="0.75"/>
<circle cx="123.58" cy="210.67" r="1.75" fill="#3f88cc" stroke="#0a1420" stroke-width="0.75"/>
<circle cx="101.09" cy="227.04" r="1.75" fill="#3f88cc" stroke="#0a1420" stroke-width="0.75"/>
<circle cx="110.47" cy="217.95" r="1.75" fill="#3f88cc" stroke="#0a1420" stroke-width="0.75"/>
<line x1="38.2" y1="281.4" x2="158.2" y2="179.4" stroke="#111" stroke-width="1.15"/>
</g>
<rect x="42.3" y="183.6" width="60.3" height="14.6" rx="1.8" fill="#fff" fill-opacity="0.85" stroke="#c8c8c8" stroke-width="0.85"/>
<circle cx="54.4" cy="191" r="1.75" fill="#3f88cc" stroke="#0a1420" stroke-width="0.6"/>
<text x="69.4" y="194.4" font-family="'Liberation Serif', serif" font-size="9" text-anchor="start" fill="#1e1e1e" textLength="29.7" lengthAdjust="spacingAndGlyphs" >2×2×2</text>
<text x="37.5" y="291.5" font-family="'Liberation Sans', sans-serif" font-size="8.2" text-anchor="middle" fill="#2a2a2a" textLength="16.2" lengthAdjust="spacingAndGlyphs" >−50</text>
<text x="61.5" y="291.5" font-family="'Liberation Sans', sans-serif" font-size="8.2" text-anchor="middle" fill="#2a2a2a" textLength="16.2" lengthAdjust="spacingAndGlyphs" >−45</text>
<text x="85.5" y="291.5" font-family="'Liberation Sans', sans-serif" font-size="8.2" text-anchor="middle" fill="#2a2a2a" textLength="16.2" lengthAdjust="spacingAndGlyphs" >−40</text>
<text x="109.5" y="291.5" font-family="'Liberation Sans', sans-serif" font-size="8.2" text-anchor="middle" fill="#2a2a2a" textLength="16.2" lengthAdjust="spacingAndGlyphs" >−35</text>
<text x="133.5" y="291.5" font-family="'Liberation Sans', sans-serif" font-size="8.2" text-anchor="middle" fill="#2a2a2a" textLength="16.2" lengthAdjust="spacingAndGlyphs" >−30</text>
<text x="157.5" y="291.5" font-family="'Liberation Sans', sans-serif" font-size="8.2" text-anchor="middle" fill="#2a2a2a" textLength="16.2" lengthAdjust="spacingAndGlyphs" >−25</text>
<text x="32.6" y="284.35" font-family="'Liberation Sans', sans-serif" font-size="8.2" text-anchor="end" fill="#2a2a2a" textLength="16.2" lengthAdjust="spacingAndGlyphs" >−50</text>
<text x="32.6" y="263.95" font-family="'Liberation Sans', sans-serif" font-size="8.2" text-anchor="end" fill="#2a2a2a" textLength="16.2" lengthAdjust="spacingAndGlyphs" >−45</text>
<text x="32.6" y="243.55" font-family="'Liberation Sans', sans-serif" font-size="8.2" text-anchor="end" fill="#2a2a2a" textLength="16.2" lengthAdjust="spacingAndGlyphs" >−40</text>
<text x="32.6" y="223.15" font-family="'Liberation Sans', sans-serif" font-size="8.2" text-anchor="end" fill="#2a2a2a" textLength="16.2" lengthAdjust="spacingAndGlyphs" >−35</text>
<text x="32.6" y="202.75" font-family="'Liberation Sans', sans-serif" font-size="8.2" text-anchor="end" fill="#2a2a2a" textLength="16.2" lengthAdjust="spacingAndGlyphs" >−30</text>
<text x="32.6" y="182.35" font-family="'Liberation Sans', sans-serif" font-size="8.2" text-anchor="end" fill="#2a2a2a" textLength="16.2" lengthAdjust="spacingAndGlyphs" >−25</text>
<text x="53.3" y="304.8" font-family="'Liberation Serif', serif" font-size="9.6" text-anchor="start" fill="#1e1e1e" textLength="19.3" lengthAdjust="spacingAndGlyphs" >True</text>
<text x="76.6" y="304.8" font-family="'Liberation Sans', sans-serif" font-size="10.4" text-anchor="start" fill="#2a2a2a" textLength="6.6" lengthAdjust="spacingAndGlyphs" font-style="italic" >E</text>
<text x="81.8" y="306.3" font-family="'Liberation Sans', sans-serif" font-size="7" text-anchor="start" fill="#2a2a2a" textLength="2.5" lengthAdjust="spacingAndGlyphs" font-style="italic" >f</text>
<text x="88.3" y="304.8" font-family="'Liberation Serif', serif" font-size="9.6" text-anchor="start" fill="#1e1e1e" textLength="52.8" lengthAdjust="spacingAndGlyphs" >(meV/atom)</text>
<g transform="translate(8.8,230.4) rotate(-90)">
<text x="-38.2" y="0" font-family="'Liberation Sans', sans-serif" font-size="9.8" text-anchor="start" fill="#2a2a2a" textLength="6" lengthAdjust="spacingAndGlyphs" font-style="italic" >E</text>
<text x="-32.7" y="1.7" font-family="'Liberation Sans', sans-serif" font-size="6.8" text-anchor="start" fill="#2a2a2a" textLength="2.2" lengthAdjust="spacingAndGlyphs" font-style="italic" >f</text>
<text x="-31" y="1.6" font-family="'Liberation Sans', sans-serif" font-size="6.4" text-anchor="start" fill="#2a2a2a" textLength="1.2" lengthAdjust="spacingAndGlyphs" >,</text>
<text x="-29.6" y="1.7" font-family="'Liberation Sans', sans-serif" font-size="6.6" text-anchor="start" fill="#2a2a2a" textLength="13.4" lengthAdjust="spacingAndGlyphs" >GNN</text>
<text x="-14.5" y="0" font-family="'Liberation Serif', serif" font-size="9.6" text-anchor="start" fill="#1e1e1e" textLength="52.1" lengthAdjust="spacingAndGlyphs" >(meV/atom)</text>
</g>
<text x="19.5" y="164.8" font-family="'Liberation Sans', sans-serif" font-size="14.4" text-anchor="start" fill="#2a2a2a" >(e)</text>
<clipPath id="c179_1"><rect x="210.8" y="179.4" width="120" height="102"/></clipPath>
<path d="M234.8 281.4v-3.4M234.8 179.4v3.4M258.8 281.4v-3.4M258.8 179.4v3.4M282.8 281.4v-3.4M282.8 179.4v3.4M306.8 281.4v-3.4M306.8 179.4v3.4M215.6 281.4v-1.9M215.6 179.4v1.9M220.4 281.4v-1.9M220.4 179.4v1.9M225.2 281.4v-1.9M225.2 179.4v1.9M230 281.4v-1.9M230 179.4v1.9M239.6 281.4v-1.9M239.6 179.4v1.9M244.4 281.4v-1.9M244.4 179.4v1.9M249.2 281.4v-1.9M249.2 179.4v1.9M254 281.4v-1.9M254 179.4v1.9M263.6 281.4v-1.9M263.6 179.4v1.9M268.4 281.4v-1.9M268.4 179.4v1.9M273.2 281.4v-1.9M273.2 179.4v1.9M278 281.4v-1.9M278 179.4v1.9M287.6 281.4v-1.9M287.6 179.4v1.9M292.4 281.4v-1.9M292.4 179.4v1.9M297.2 281.4v-1.9M297.2 179.4v1.9M302 281.4v-1.9M302 179.4v1.9M311.6 281.4v-1.9M311.6 179.4v1.9M316.4 281.4v-1.9M316.4 179.4v1.9M321.2 281.4v-1.9M321.2 179.4v1.9M326 281.4v-1.9M326 179.4v1.9M210.8 261h3.4M330.8 261h-3.4M210.8 240.6h3.4M330.8 240.6h-3.4M210.8 220.2h3.4M330.8 220.2h-3.4M210.8 199.8h3.4M330.8 199.8h-3.4M210.8 277.32h1.9M330.8 277.32h-1.9M210.8 273.24h1.9M330.8 273.24h-1.9M210.8 269.16h1.9M330.8 269.16h-1.9M210.8 265.08h1.9M330.8 265.08h-1.9M210.8 256.92h1.9M330.8 256.92h-1.9M210.8 252.84h1.9M330.8 252.84h-1.9M210.8 248.76h1.9M330.8 248.76h-1.9M210.8 244.68h1.9M330.8 244.68h-1.9M210.8 236.52h1.9M330.8 236.52h-1.9M210.8 232.44h1.9M330.8 232.44h-1.9M210.8 228.36h1.9M330.8 228.36h-1.9M210.8 224.28h1.9M330.8 224.28h-1.9M210.8 216.12h1.9M330.8 216.12h-1.9M210.8 212.04h1.9M330.8 212.04h-1.9M210.8 207.96h1.9M330.8 207.96h-1.9M210.8 203.88h1.9M330.8 203.88h-1.9M210.8 195.72h1.9M330.8 195.72h-1.9M210.8 191.64h1.9M330.8 191.64h-1.9M210.8 187.56h1.9M330.8 187.56h-1.9M210.8 183.48h1.9M330.8 183.48h-1.9" stroke="#222" stroke-width="0.8" fill="none"/>
<rect x="210.8" y="179.4" width="120" height="102" fill="none" stroke="#222" stroke-width="1.0"/>
<g clip-path="url(#c179_1)">
<circle cx="235.62" cy="255.62" r="1.75" fill="#3f88cc" stroke="#0a1420" stroke-width="0.75"/>
<circle cx="236.25" cy="258.75" r="1.75" fill="#3f88cc" stroke="#0a1420" stroke-width="0.75"/>
<circle cx="238.75" cy="258.12" r="1.75" fill="#3f88cc" stroke="#0a1420" stroke-width="0.75"/>
<circle cx="240.62" cy="258.75" r="1.75" fill="#3f88cc" stroke="#0a1420" stroke-width="0.75"/>
<circle cx="242.5" cy="250" r="1.75" fill="#3f88cc" stroke="#0a1420" stroke-width="0.75"/>
<circle cx="246.25" cy="251.25" r="1.75" fill="#3f88cc" stroke="#0a1420" stroke-width="0.75"/>
<circle cx="246.88" cy="255" r="1.75" fill="#3f88cc" stroke="#0a1420" stroke-width="0.75"/>
<circle cx="248.12" cy="248.12" r="1.75" fill="#3f88cc" stroke="#0a1420" stroke-width="0.75"/>
<circle cx="249.38" cy="245.62" r="1.75" fill="#3f88cc" stroke="#0a1420" stroke-width="0.75"/>
<circle cx="251.25" cy="248.12" r="1.75" fill="#3f88cc" stroke="#0a1420" stroke-width="0.75"/>
<circle cx="253.12" cy="241.25" r="1.75" fill="#3f88cc" stroke="#0a1420" stroke-width="0.75"/>
<circle cx="254.38" cy="245" r="1.75" fill="#3f88cc" stroke="#0a1420" stroke-width="0.75"/>
<circle cx="255" cy="248.12" r="1.75" fill="#3f88cc" stroke="#0a1420" stroke-width="0.75"/>
<circle cx="256.88" cy="243.12" r="1.75" fill="#3f88cc" stroke="#0a1420" stroke-width="0.75"/>
<circle cx="258.12" cy="238.12" r="1.75" fill="#3f88cc" stroke="#0a1420" stroke-width="0.75"/>
<circle cx="259.38" cy="236.25" r="1.75" fill="#3f88cc" stroke="#0a1420" stroke-width="0.75"/>
<circle cx="260.62" cy="240.62" r="1.75" fill="#3f88cc" stroke="#0a1420" stroke-width="0.75"/>
<circle cx="261.25" cy="237.5" r="1.75" fill="#3f88cc" stroke="#0a1420" stroke-width="0.75"/>
<circle cx="263.12" cy="236.25" r="1.75" fill="#3f88cc" stroke="#0a1420" stroke-width="0.75"/>
<circle cx="264.38" cy="233.75" r="1.75" fill="#3f88cc" stroke="#0a1420" stroke-width="0.75"/>
<circle cx="265.62" cy="231.88" r="1.75" fill="#3f88cc" stroke="#0a1420" stroke-width="0.75"/>
<circle cx="266.88" cy="236.88" r="1.75" fill="#3f88cc" stroke="#0a1420" stroke-width="0.75"/>
<circle cx="267.5" cy="227.5" r="1.75" fill="#3f88cc" stroke="#0a1420" stroke-width="0.75"/>
<circle cx="268.12" cy="230.62" r="1.75" fill="#3f88cc" stroke="#0a1420" stroke-width="0.75"/>
<circle cx="270" cy="232.5" r="1.75" fill="#3f88cc" stroke="#0a1420" stroke-width="0.75"/>
<circle cx="271.25" cy="228.75" r="1.75" fill="#3f88cc" stroke="#0a1420" stroke-width="0.75"/>
<circle cx="273.12" cy="234.38" r="1.75" fill="#3f88cc" stroke="#0a1420" stroke-width="0.75"/>
<circle cx="273.75" cy="226.88" r="1.75" fill="#3f88cc" stroke="#0a1420" stroke-width="0.75"/>
<circle cx="276.25" cy="227.5" r="1.75" fill="#3f88cc" stroke="#0a1420" stroke-width="0.75"/>
<circle cx="278.12" cy="226.25" r="1.75" fill="#3f88cc" stroke="#0a1420" stroke-width="0.75"/>
<circle cx="281.25" cy="225" r="1.75" fill="#3f88cc" stroke="#0a1420" stroke-width="0.75"/>
<circle cx="306.88" cy="201" r="1.75" fill="#3f88cc" stroke="#0a1420" stroke-width="0.75"/>
<circle cx="308.12" cy="204.38" r="1.75" fill="#3f88cc" stroke="#0a1420" stroke-width="0.75"/>
<circle cx="298.75" cy="203.12" r="1.75" fill="#3f88cc" stroke="#0a1420" stroke-width="0.75"/>
<circle cx="298.12" cy="205.62" r="1.75" fill="#3f88cc" stroke="#0a1420" stroke-width="0.75"/>
<circle cx="303.12" cy="206.88" r="1.75" fill="#3f88cc" stroke="#0a1420" stroke-width="0.75"/>
<circle cx="299.38" cy="208.75" r="1.75" fill="#3f88cc" stroke="#0a1420" stroke-width="0.75"/>
<circle cx="294.38" cy="208.75" r="1.75" fill="#3f88cc" stroke="#0a1420" stroke-width="0.75"/>
<circle cx="296.88" cy="210.62" r="1.75" fill="#3f88cc" stroke="#0a1420" stroke-width="0.75"/>
<circle cx="290" cy="212.5" r="1.75" fill="#3f88cc" stroke="#0a1420" stroke-width="0.75"/>
<circle cx="285" cy="213.12" r="1.75" fill="#3f88cc" stroke="#0a1420" stroke-width="0.75"/>
<circle cx="283.75" cy="215" r="1.75" fill="#3f88cc" stroke="#0a1420" stroke-width="0.75"/>
<circle cx="287.5" cy="215.62" r="1.75" fill="#3f88cc" stroke="#0a1420" stroke-width="0.75"/>
<circle cx="288.12" cy="216.88" r="1.75" fill="#3f88cc" stroke="#0a1420" stroke-width="0.75"/>
<circle cx="279.38" cy="219.38" r="1.75" fill="#3f88cc" stroke="#0a1420" stroke-width="0.75"/>
<circle cx="281.88" cy="220.62" r="1.75" fill="#3f88cc" stroke="#0a1420" stroke-width="0.75"/>
<circle cx="273.75" cy="222.75" r="1.75" fill="#3f88cc" stroke="#0a1420" stroke-width="0.75"/>
<circle cx="277.5" cy="223.12" r="1.75" fill="#3f88cc" stroke="#0a1420" stroke-width="0.75"/>
<circle cx="281.88" cy="223.75" r="1.75" fill="#3f88cc" stroke="#0a1420" stroke-width="0.75"/>
<circle cx="278.75" cy="225.62" r="1.75" fill="#3f88cc" stroke="#0a1420" stroke-width="0.75"/>
<circle cx="275.62" cy="226.88" r="1.75" fill="#3f88cc" stroke="#0a1420" stroke-width="0.75"/>
<circle cx="270.62" cy="227.5" r="1.75" fill="#3f88cc" stroke="#0a1420" stroke-width="0.75"/>
<circle cx="271.25" cy="231.25" r="1.75" fill="#3f88cc" stroke="#0a1420" stroke-width="0.75"/>
<circle cx="273.12" cy="234.38" r="1.75" fill="#3f88cc" stroke="#0a1420" stroke-width="0.75"/>
<circle cx="275" cy="228.75" r="1.75" fill="#3f88cc" stroke="#0a1420" stroke-width="0.75"/>
<circle cx="273.33" cy="225.93" r="1.75" fill="#3f88cc" stroke="#0a1420" stroke-width="0.75"/>
<circle cx="252.82" cy="244.89" r="1.75" fill="#3f88cc" stroke="#0a1420" stroke-width="0.75"/>
<circle cx="289.32" cy="216.44" r="1.75" fill="#3f88cc" stroke="#0a1420" stroke-width="0.75"/>
<circle cx="248.57" cy="245.14" r="1.75" fill="#3f88cc" stroke="#0a1420" stroke-width="0.75"/>
<circle cx="270.95" cy="229.16" r="1.75" fill="#3f88cc" stroke="#0a1420" stroke-width="0.75"/>
<circle cx="297.71" cy="209.9" r="1.75" fill="#3f88cc" stroke="#0a1420" stroke-width="0.75"/>
<circle cx="301.32" cy="209.11" r="1.75" fill="#3f88cc" stroke="#0a1420" stroke-width="0.75"/>
<circle cx="276.63" cy="226.21" r="1.75" fill="#3f88cc" stroke="#0a1420" stroke-width="0.75"/>
<circle cx="262.64" cy="235.74" r="1.75" fill="#3f88cc" stroke="#0a1420" stroke-width="0.75"/>
<circle cx="268.59" cy="234.03" r="1.75" fill="#3f88cc" stroke="#0a1420" stroke-width="0.75"/>
<line x1="210.8" y1="281.4" x2="330.8" y2="179.4" stroke="#111" stroke-width="1.15"/>
</g>
<rect x="214.9" y="183.6" width="60.3" height="14.6" rx="1.8" fill="#fff" fill-opacity="0.85" stroke="#c8c8c8" stroke-width="0.85"/>
<circle cx="227" cy="191" r="1.75" fill="#3f88cc" stroke="#0a1420" stroke-width="0.6"/>
<text x="242" y="194.4" font-family="'Liberation Serif', serif" font-size="9" text-anchor="start" fill="#1e1e1e" textLength="29.7" lengthAdjust="spacingAndGlyphs" >2×2×3</text>
<text x="210.1" y="291.5" font-family="'Liberation Sans', sans-serif" font-size="8.2" text-anchor="middle" fill="#2a2a2a" textLength="16.2" lengthAdjust="spacingAndGlyphs" >−50</text>
<text x="234.1" y="291.5" font-family="'Liberation Sans', sans-serif" font-size="8.2" text-anchor="middle" fill="#2a2a2a" textLength="16.2" lengthAdjust="spacingAndGlyphs" >−45</text>
<text x="258.1" y="291.5" font-family="'Liberation Sans', sans-serif" font-size="8.2" text-anchor="middle" fill="#2a2a2a" textLength="16.2" lengthAdjust="spacingAndGlyphs" >−40</text>
<text x="282.1" y="291.5" font-family="'Liberation Sans', sans-serif" font-size="8.2" text-anchor="middle" fill="#2a2a2a" textLength="16.2" lengthAdjust="spacingAndGlyphs" >−35</text>
<text x="306.1" y="291.5" font-family="'Liberation Sans', sans-serif" font-size="8.2" text-anchor="middle" fill="#2a2a2a" textLength="16.2" lengthAdjust="spacingAndGlyphs" >−30</text>
<text x="330.1" y="291.5" font-family="'Liberation Sans', sans-serif" font-size="8.2" text-anchor="middle" fill="#2a2a2a" textLength="16.2" lengthAdjust="spacingAndGlyphs" >−25</text>
<text x="205.2" y="284.35" font-family="'Liberation Sans', sans-serif" font-size="8.2" text-anchor="end" fill="#2a2a2a" textLength="16.2" lengthAdjust="spacingAndGlyphs" >−50</text>
<text x="205.2" y="263.95" font-family="'Liberation Sans', sans-serif" font-size="8.2" text-anchor="end" fill="#2a2a2a" textLength="16.2" lengthAdjust="spacingAndGlyphs" >−45</text>
<text x="205.2" y="243.55" font-family="'Liberation Sans', sans-serif" font-size="8.2" text-anchor="end" fill="#2a2a2a" textLength="16.2" lengthAdjust="spacingAndGlyphs" >−40</text>
<text x="205.2" y="223.15" font-family="'Liberation Sans', sans-serif" font-size="8.2" text-anchor="end" fill="#2a2a2a" textLength="16.2" lengthAdjust="spacingAndGlyphs" >−35</text>
<text x="205.2" y="202.75" font-family="'Liberation Sans', sans-serif" font-size="8.2" text-anchor="end" fill="#2a2a2a" textLength="16.2" lengthAdjust="spacingAndGlyphs" >−30</text>
<text x="205.2" y="182.35" font-family="'Liberation Sans', sans-serif" font-size="8.2" text-anchor="end" fill="#2a2a2a" textLength="16.2" lengthAdjust="spacingAndGlyphs" >−25</text>
<text x="225.9" y="304.8" font-family="'Liberation Serif', serif" font-size="9.6" text-anchor="start" fill="#1e1e1e" textLength="19.3" lengthAdjust="spacingAndGlyphs" >True</text>
<text x="249.2" y="304.8" font-family="'Liberation Sans', sans-serif" font-size="10.4" text-anchor="start" fill="#2a2a2a" textLength="6.6" lengthAdjust="spacingAndGlyphs" font-style="italic" >E</text>
<text x="254.4" y="306.3" font-family="'Liberation Sans', sans-serif" font-size="7" text-anchor="start" fill="#2a2a2a" textLength="2.5" lengthAdjust="spacingAndGlyphs" font-style="italic" >f</text>
<text x="260.9" y="304.8" font-family="'Liberation Serif', serif" font-size="9.6" text-anchor="start" fill="#1e1e1e" textLength="52.8" lengthAdjust="spacingAndGlyphs" >(meV/atom)</text>
<g transform="translate(181.4,230.4) rotate(-90)">
<text x="-38.2" y="0" font-family="'Liberation Sans', sans-serif" font-size="9.8" text-anchor="start" fill="#2a2a2a" textLength="6" lengthAdjust="spacingAndGlyphs" font-style="italic" >E</text>
<text x="-32.7" y="1.7" font-family="'Liberation Sans', sans-serif" font-size="6.8" text-anchor="start" fill="#2a2a2a" textLength="2.2" lengthAdjust="spacingAndGlyphs" font-style="italic" >f</text>
<text x="-31" y="1.6" font-family="'Liberation Sans', sans-serif" font-size="6.4" text-anchor="start" fill="#2a2a2a" textLength="1.2" lengthAdjust="spacingAndGlyphs" >,</text>
<text x="-29.6" y="1.7" font-family="'Liberation Sans', sans-serif" font-size="6.6" text-anchor="start" fill="#2a2a2a" textLength="13.4" lengthAdjust="spacingAndGlyphs" >GNN</text>
<text x="-14.5" y="0" font-family="'Liberation Serif', serif" font-size="9.6" text-anchor="start" fill="#1e1e1e" textLength="52.1" lengthAdjust="spacingAndGlyphs" >(meV/atom)</text>
</g>
<text x="190.5" y="164.8" font-family="'Liberation Sans', sans-serif" font-size="14.4" text-anchor="start" fill="#2a2a2a" >(f)</text>
<clipPath id="c179_2"><rect x="383.4" y="179.4" width="120" height="102"/></clipPath>
<path d="M407.4 281.4v-3.4M407.4 179.4v3.4M431.4 281.4v-3.4M431.4 179.4v3.4M455.4 281.4v-3.4M455.4 179.4v3.4M479.4 281.4v-3.4M479.4 179.4v3.4M388.2 281.4v-1.9M388.2 179.4v1.9M393 281.4v-1.9M393 179.4v1.9M397.8 281.4v-1.9M397.8 179.4v1.9M402.6 281.4v-1.9M402.6 179.4v1.9M412.2 281.4v-1.9M412.2 179.4v1.9M417 281.4v-1.9M417 179.4v1.9M421.8 281.4v-1.9M421.8 179.4v1.9M426.6 281.4v-1.9M426.6 179.4v1.9M436.2 281.4v-1.9M436.2 179.4v1.9M441 281.4v-1.9M441 179.4v1.9M445.8 281.4v-1.9M445.8 179.4v1.9M450.6 281.4v-1.9M450.6 179.4v1.9M460.2 281.4v-1.9M460.2 179.4v1.9M465 281.4v-1.9M465 179.4v1.9M469.8 281.4v-1.9M469.8 179.4v1.9M474.6 281.4v-1.9M474.6 179.4v1.9M484.2 281.4v-1.9M484.2 179.4v1.9M489 281.4v-1.9M489 179.4v1.9M493.8 281.4v-1.9M493.8 179.4v1.9M498.6 281.4v-1.9M498.6 179.4v1.9M383.4 261h3.4M503.4 261h-3.4M383.4 240.6h3.4M503.4 240.6h-3.4M383.4 220.2h3.4M503.4 220.2h-3.4M383.4 199.8h3.4M503.4 199.8h-3.4M383.4 277.32h1.9M503.4 277.32h-1.9M383.4 273.24h1.9M503.4 273.24h-1.9M383.4 269.16h1.9M503.4 269.16h-1.9M383.4 265.08h1.9M503.4 265.08h-1.9M383.4 256.92h1.9M503.4 256.92h-1.9M383.4 252.84h1.9M503.4 252.84h-1.9M383.4 248.76h1.9M503.4 248.76h-1.9M383.4 244.68h1.9M503.4 244.68h-1.9M383.4 236.52h1.9M503.4 236.52h-1.9M383.4 232.44h1.9M503.4 232.44h-1.9M383.4 228.36h1.9M503.4 228.36h-1.9M383.4 224.28h1.9M503.4 224.28h-1.9M383.4 216.12h1.9M503.4 216.12h-1.9M383.4 212.04h1.9M503.4 212.04h-1.9M383.4 207.96h1.9M503.4 207.96h-1.9M383.4 203.88h1.9M503.4 203.88h-1.9M383.4 195.72h1.9M503.4 195.72h-1.9M383.4 191.64h1.9M503.4 191.64h-1.9M383.4 187.56h1.9M503.4 187.56h-1.9M383.4 183.48h1.9M503.4 183.48h-1.9" stroke="#222" stroke-width="0.8" fill="none"/>
<rect x="383.4" y="179.4" width="120" height="102" fill="none" stroke="#222" stroke-width="1.0"/>
<g clip-path="url(#c179_2)">
<circle cx="406.25" cy="265" r="1.75" fill="#3f88cc" stroke="#0a1420" stroke-width="0.75"/>
<circle cx="411.25" cy="255.62" r="1.75" fill="#3f88cc" stroke="#0a1420" stroke-width="0.75"/>
<circle cx="413.12" cy="252.5" r="1.75" fill="#3f88cc" stroke="#0a1420" stroke-width="0.75"/>
<circle cx="415" cy="256.25" r="1.75" fill="#3f88cc" stroke="#0a1420" stroke-width="0.75"/>
<circle cx="416.88" cy="249.38" r="1.75" fill="#3f88cc" stroke="#0a1420" stroke-width="0.75"/>
<circle cx="418.75" cy="253.75" r="1.75" fill="#3f88cc" stroke="#0a1420" stroke-width="0.75"/>
<circle cx="418.12" cy="251.25" r="1.75" fill="#3f88cc" stroke="#0a1420" stroke-width="0.75"/>
<circle cx="422.5" cy="244.38" r="1.75" fill="#3f88cc" stroke="#0a1420" stroke-width="0.75"/>
<circle cx="423.12" cy="248.75" r="1.75" fill="#3f88cc" stroke="#0a1420" stroke-width="0.75"/>
<circle cx="425" cy="245.62" r="1.75" fill="#3f88cc" stroke="#0a1420" stroke-width="0.75"/>
<circle cx="426.88" cy="241.88" r="1.75" fill="#3f88cc" stroke="#0a1420" stroke-width="0.75"/>
<circle cx="429.38" cy="243.12" r="1.75" fill="#3f88cc" stroke="#0a1420" stroke-width="0.75"/>
<circle cx="430" cy="235.62" r="1.75" fill="#3f88cc" stroke="#0a1420" stroke-width="0.75"/>
<circle cx="430.62" cy="239.38" r="1.75" fill="#3f88cc" stroke="#0a1420" stroke-width="0.75"/>
<circle cx="432.5" cy="241.25" r="1.75" fill="#3f88cc" stroke="#0a1420" stroke-width="0.75"/>
<circle cx="433.75" cy="236.25" r="1.75" fill="#3f88cc" stroke="#0a1420" stroke-width="0.75"/>
<circle cx="436.25" cy="238.75" r="1.75" fill="#3f88cc" stroke="#0a1420" stroke-width="0.75"/>
<circle cx="436.88" cy="233.12" r="1.75" fill="#3f88cc" stroke="#0a1420" stroke-width="0.75"/>
<circle cx="438.75" cy="236.25" r="1.75" fill="#3f88cc" stroke="#0a1420" stroke-width="0.75"/>
<circle cx="440" cy="229.38" r="1.75" fill="#3f88cc" stroke="#0a1420" stroke-width="0.75"/>
<circle cx="440" cy="237.5" r="1.75" fill="#3f88cc" stroke="#0a1420" stroke-width="0.75"/>
<circle cx="442.5" cy="233.12" r="1.75" fill="#3f88cc" stroke="#0a1420" stroke-width="0.75"/>
<circle cx="444.38" cy="230.62" r="1.75" fill="#3f88cc" stroke="#0a1420" stroke-width="0.75"/>
<circle cx="445" cy="222.5" r="1.75" fill="#3f88cc" stroke="#0a1420" stroke-width="0.75"/>
<circle cx="446.88" cy="225" r="1.75" fill="#3f88cc" stroke="#0a1420" stroke-width="0.75"/>
<circle cx="448.12" cy="227.5" r="1.75" fill="#3f88cc" stroke="#0a1420" stroke-width="0.75"/>
<circle cx="450" cy="228.75" r="1.75" fill="#3f88cc" stroke="#0a1420" stroke-width="0.75"/>
<circle cx="450.62" cy="224.38" r="1.75" fill="#3f88cc" stroke="#0a1420" stroke-width="0.75"/>
<circle cx="451.88" cy="220" r="1.75" fill="#3f88cc" stroke="#0a1420" stroke-width="0.75"/>
<circle cx="453.75" cy="221.88" r="1.75" fill="#3f88cc" stroke="#0a1420" stroke-width="0.75"/>
<circle cx="455" cy="217.5" r="1.75" fill="#3f88cc" stroke="#0a1420" stroke-width="0.75"/>
<circle cx="456.88" cy="220" r="1.75" fill="#3f88cc" stroke="#0a1420" stroke-width="0.75"/>
<circle cx="458.12" cy="216.88" r="1.75" fill="#3f88cc" stroke="#0a1420" stroke-width="0.75"/>
<circle cx="462.75" cy="214.38" r="1.75" fill="#3f88cc" stroke="#0a1420" stroke-width="0.75"/>
<circle cx="461.25" cy="213.75" r="1.75" fill="#3f88cc" stroke="#0a1420" stroke-width="0.75"/>
<circle cx="456.25" cy="215" r="1.75" fill="#3f88cc" stroke="#0a1420" stroke-width="0.75"/>
<circle cx="453.12" cy="217.5" r="1.75" fill="#3f88cc" stroke="#0a1420" stroke-width="0.75"/>
<circle cx="454.38" cy="219.38" r="1.75" fill="#3f88cc" stroke="#0a1420" stroke-width="0.75"/>
<circle cx="458.12" cy="220.62" r="1.75" fill="#3f88cc" stroke="#0a1420" stroke-width="0.75"/>
<circle cx="451.25" cy="220.62" r="1.75" fill="#3f88cc" stroke="#0a1420" stroke-width="0.75"/>
<circle cx="445" cy="222.5" r="1.75" fill="#3f88cc" stroke="#0a1420" stroke-width="0.75"/>
<circle cx="446.88" cy="225" r="1.75" fill="#3f88cc" stroke="#0a1420" stroke-width="0.75"/>
<circle cx="448.75" cy="223.12" r="1.75" fill="#3f88cc" stroke="#0a1420" stroke-width="0.75"/>
<circle cx="450" cy="225.62" r="1.75" fill="#3f88cc" stroke="#0a1420" stroke-width="0.75"/>
<circle cx="449.38" cy="228.12" r="1.75" fill="#3f88cc" stroke="#0a1420" stroke-width="0.75"/>
<circle cx="446.25" cy="227.5" r="1.75" fill="#3f88cc" stroke="#0a1420" stroke-width="0.75"/>
<circle cx="441.88" cy="228.75" r="1.75" fill="#3f88cc" stroke="#0a1420" stroke-width="0.75"/>
<circle cx="440.62" cy="230.62" r="1.75" fill="#3f88cc" stroke="#0a1420" stroke-width="0.75"/>
<circle cx="442.5" cy="232.5" r="1.75" fill="#3f88cc" stroke="#0a1420" stroke-width="0.75"/>
<circle cx="437.5" cy="232.5" r="1.75" fill="#3f88cc" stroke="#0a1420" stroke-width="0.75"/>
<circle cx="436.25" cy="235" r="1.75" fill="#3f88cc" stroke="#0a1420" stroke-width="0.75"/>
<circle cx="439.38" cy="236.88" r="1.75" fill="#3f88cc" stroke="#0a1420" stroke-width="0.75"/>
<circle cx="432.5" cy="236.25" r="1.75" fill="#3f88cc" stroke="#0a1420" stroke-width="0.75"/>
<circle cx="435" cy="238.75" r="1.75" fill="#3f88cc" stroke="#0a1420" stroke-width="0.75"/>
<circle cx="431.25" cy="241.25" r="1.75" fill="#3f88cc" stroke="#0a1420" stroke-width="0.75"/>
<circle cx="430.62" cy="244.38" r="1.75" fill="#3f88cc" stroke="#0a1420" stroke-width="0.75"/>
<circle cx="427.59" cy="242.88" r="1.75" fill="#3f88cc" stroke="#0a1420" stroke-width="0.75"/>
<circle cx="416.29" cy="252.51" r="1.75" fill="#3f88cc" stroke="#0a1420" stroke-width="0.75"/>
<circle cx="436.46" cy="233.94" r="1.75" fill="#3f88cc" stroke="#0a1420" stroke-width="0.75"/>
<circle cx="435.55" cy="235.49" r="1.75" fill="#3f88cc" stroke="#0a1420" stroke-width="0.75"/>
<circle cx="413.44" cy="252.26" r="1.75" fill="#3f88cc" stroke="#0a1420" stroke-width="0.75"/>
<circle cx="416.3" cy="250.8" r="1.75" fill="#3f88cc" stroke="#0a1420" stroke-width="0.75"/>
<circle cx="431.72" cy="238.53" r="1.75" fill="#3f88cc" stroke="#0a1420" stroke-width="0.75"/>
<circle cx="421.9" cy="245.28" r="1.75" fill="#3f88cc" stroke="#0a1420" stroke-width="0.75"/>
<circle cx="441.87" cy="232.04" r="1.75" fill="#3f88cc" stroke="#0a1420" stroke-width="0.75"/>
<circle cx="429.9" cy="238.89" r="1.75" fill="#3f88cc" stroke="#0a1420" stroke-width="0.75"/>
<circle cx="458.45" cy="219.8" r="1.75" fill="#3f88cc" stroke="#0a1420" stroke-width="0.75"/>
<circle cx="425.79" cy="243.86" r="1.75" fill="#3f88cc" stroke="#0a1420" stroke-width="0.75"/>
<circle cx="419.15" cy="249.31" r="1.75" fill="#3f88cc" stroke="#0a1420" stroke-width="0.75"/>
<circle cx="450.01" cy="224.39" r="1.75" fill="#3f88cc" stroke="#0a1420" stroke-width="0.75"/>
<circle cx="419.3" cy="246.05" r="1.75" fill="#3f88cc" stroke="#0a1420" stroke-width="0.75"/>
<circle cx="428.56" cy="239.51" r="1.75" fill="#3f88cc" stroke="#0a1420" stroke-width="0.75"/>
<circle cx="437.46" cy="234.06" r="1.75" fill="#3f88cc" stroke="#0a1420" stroke-width="0.75"/>
<circle cx="421.58" cy="246.52" r="1.75" fill="#3f88cc" stroke="#0a1420" stroke-width="0.75"/>
<circle cx="442.66" cy="228.03" r="1.75" fill="#3f88cc" stroke="#0a1420" stroke-width="0.75"/>
<circle cx="439.25" cy="232.72" r="1.75" fill="#3f88cc" stroke="#0a1420" stroke-width="0.75"/>
<circle cx="432.4" cy="236.68" r="1.75" fill="#3f88cc" stroke="#0a1420" stroke-width="0.75"/>
<circle cx="445.53" cy="229.85" r="1.75" fill="#3f88cc" stroke="#0a1420" stroke-width="0.75"/>
<circle cx="422.34" cy="243.86" r="1.75" fill="#3f88cc" stroke="#0a1420" stroke-width="0.75"/>
<circle cx="451.81" cy="221.06" r="1.75" fill="#3f88cc" stroke="#0a1420" stroke-width="0.75"/>
<circle cx="445.02" cy="226.34" r="1.75" fill="#3f88cc" stroke="#0a1420" stroke-width="0.75"/>
<circle cx="419.65" cy="252.39" r="1.75" fill="#3f88cc" stroke="#0a1420" stroke-width="0.75"/>
<line x1="383.4" y1="281.4" x2="503.4" y2="179.4" stroke="#111" stroke-width="1.15"/>
</g>
<rect x="387.5" y="183.6" width="60.3" height="14.6" rx="1.8" fill="#fff" fill-opacity="0.85" stroke="#c8c8c8" stroke-width="0.85"/>
<circle cx="399.6" cy="191" r="1.75" fill="#3f88cc" stroke="#0a1420" stroke-width="0.6"/>
<text x="414.6" y="194.4" font-family="'Liberation Serif', serif" font-size="9" text-anchor="start" fill="#1e1e1e" textLength="29.7" lengthAdjust="spacingAndGlyphs" >3×3×3</text>
<text x="382.7" y="291.5" font-family="'Liberation Sans', sans-serif" font-size="8.2" text-anchor="middle" fill="#2a2a2a" textLength="16.2" lengthAdjust="spacingAndGlyphs" >−40</text>
<text x="406.7" y="291.5" font-family="'Liberation Sans', sans-serif" font-size="8.2" text-anchor="middle" fill="#2a2a2a" textLength="16.2" lengthAdjust="spacingAndGlyphs" >−35</text>
<text x="430.7" y="291.5" font-family="'Liberation Sans', sans-serif" font-size="8.2" text-anchor="middle" fill="#2a2a2a" textLength="16.2" lengthAdjust="spacingAndGlyphs" >−30</text>
<text x="454.7" y="291.5" font-family="'Liberation Sans', sans-serif" font-size="8.2" text-anchor="middle" fill="#2a2a2a" textLength="16.2" lengthAdjust="spacingAndGlyphs" >−25</text>
<text x="478.7" y="291.5" font-family="'Liberation Sans', sans-serif" font-size="8.2" text-anchor="middle" fill="#2a2a2a" textLength="16.2" lengthAdjust="spacingAndGlyphs" >−20</text>
<text x="502.7" y="291.5" font-family="'Liberation Sans', sans-serif" font-size="8.2" text-anchor="middle" fill="#2a2a2a" textLength="16.2" lengthAdjust="spacingAndGlyphs" >−15</text>
<text x="377.8" y="284.35" font-family="'Liberation Sans', sans-serif" font-size="8.2" text-anchor="end" fill="#2a2a2a" textLength="16.2" lengthAdjust="spacingAndGlyphs" >−40</text>
<text x="377.8" y="263.95" font-family="'Liberation Sans', sans-serif" font-size="8.2" text-anchor="end" fill="#2a2a2a" textLength="16.2" lengthAdjust="spacingAndGlyphs" >−35</text>
<text x="377.8" y="243.55" font-family="'Liberation Sans', sans-serif" font-size="8.2" text-anchor="end" fill="#2a2a2a" textLength="16.2" lengthAdjust="spacingAndGlyphs" >−30</text>
<text x="377.8" y="223.15" font-family="'Liberation Sans', sans-serif" font-size="8.2" text-anchor="end" fill="#2a2a2a" textLength="16.2" lengthAdjust="spacingAndGlyphs" >−25</text>
<text x="377.8" y="202.75" font-family="'Liberation Sans', sans-serif" font-size="8.2" text-anchor="end" fill="#2a2a2a" textLength="16.2" lengthAdjust="spacingAndGlyphs" >−20</text>
<text x="377.8" y="182.35" font-family="'Liberation Sans', sans-serif" font-size="8.2" text-anchor="end" fill="#2a2a2a" textLength="16.2" lengthAdjust="spacingAndGlyphs" >−15</text>
<text x="398.5" y="304.8" font-family="'Liberation Serif', serif" font-size="9.6" text-anchor="start" fill="#1e1e1e" textLength="19.3" lengthAdjust="spacingAndGlyphs" >True</text>
<text x="421.8" y="304.8" font-family="'Liberation Sans', sans-serif" font-size="10.4" text-anchor="start" fill="#2a2a2a" textLength="6.6" lengthAdjust="spacingAndGlyphs" font-style="italic" >E</text>
<text x="427" y="306.3" font-family="'Liberation Sans', sans-serif" font-size="7" text-anchor="start" fill="#2a2a2a" textLength="2.5" lengthAdjust="spacingAndGlyphs" font-style="italic" >f</text>
<text x="433.5" y="304.8" font-family="'Liberation Serif', serif" font-size="9.6" text-anchor="start" fill="#1e1e1e" textLength="52.8" lengthAdjust="spacingAndGlyphs" >(meV/atom)</text>
<g transform="translate(354,230.4) rotate(-90)">
<text x="-38.2" y="0" font-family="'Liberation Sans', sans-serif" font-size="9.8" text-anchor="start" fill="#2a2a2a" textLength="6" lengthAdjust="spacingAndGlyphs" font-style="italic" >E</text>
<text x="-32.7" y="1.7" font-family="'Liberation Sans', sans-serif" font-size="6.8" text-anchor="start" fill="#2a2a2a" textLength="2.2" lengthAdjust="spacingAndGlyphs" font-style="italic" >f</text>
<text x="-31" y="1.6" font-family="'Liberation Sans', sans-serif" font-size="6.4" text-anchor="start" fill="#2a2a2a" textLength="1.2" lengthAdjust="spacingAndGlyphs" >,</text>
<text x="-29.6" y="1.7" font-family="'Liberation Sans', sans-serif" font-size="6.6" text-anchor="start" fill="#2a2a2a" textLength="13.4" lengthAdjust="spacingAndGlyphs" >GNN</text>
<text x="-14.5" y="0" font-family="'Liberation Serif', serif" font-size="9.6" text-anchor="start" fill="#1e1e1e" textLength="52.1" lengthAdjust="spacingAndGlyphs" >(meV/atom)</text>
</g>
<text x="361.3" y="164.8" font-family="'Liberation Sans', sans-serif" font-size="14.4" text-anchor="start" fill="#2a2a2a" >(g)</text>
<clipPath id="c179_3"><rect x="555.9" y="179.4" width="120" height="102"/></clipPath>
<path d="M579.9 281.4v-3.4M579.9 179.4v3.4M603.9 281.4v-3.4M603.9 179.4v3.4M627.9 281.4v-3.4M627.9 179.4v3.4M651.9 281.4v-3.4M651.9 179.4v3.4M560.7 281.4v-1.9M560.7 179.4v1.9M565.5 281.4v-1.9M565.5 179.4v1.9M570.3 281.4v-1.9M570.3 179.4v1.9M575.1 281.4v-1.9M575.1 179.4v1.9M584.7 281.4v-1.9M584.7 179.4v1.9M589.5 281.4v-1.9M589.5 179.4v1.9M594.3 281.4v-1.9M594.3 179.4v1.9M599.1 281.4v-1.9M599.1 179.4v1.9M608.7 281.4v-1.9M608.7 179.4v1.9M613.5 281.4v-1.9M613.5 179.4v1.9M618.3 281.4v-1.9M618.3 179.4v1.9M623.1 281.4v-1.9M623.1 179.4v1.9M632.7 281.4v-1.9M632.7 179.4v1.9M637.5 281.4v-1.9M637.5 179.4v1.9M642.3 281.4v-1.9M642.3 179.4v1.9M647.1 281.4v-1.9M647.1 179.4v1.9M656.7 281.4v-1.9M656.7 179.4v1.9M661.5 281.4v-1.9M661.5 179.4v1.9M666.3 281.4v-1.9M666.3 179.4v1.9M671.1 281.4v-1.9M671.1 179.4v1.9M555.9 261h3.4M675.9 261h-3.4M555.9 240.6h3.4M675.9 240.6h-3.4M555.9 220.2h3.4M675.9 220.2h-3.4M555.9 199.8h3.4M675.9 199.8h-3.4M555.9 277.32h1.9M675.9 277.32h-1.9M555.9 273.24h1.9M675.9 273.24h-1.9M555.9 269.16h1.9M675.9 269.16h-1.9M555.9 265.08h1.9M675.9 265.08h-1.9M555.9 256.92h1.9M675.9 256.92h-1.9M555.9 252.84h1.9M675.9 252.84h-1.9M555.9 248.76h1.9M675.9 248.76h-1.9M555.9 244.68h1.9M675.9 244.68h-1.9M555.9 236.52h1.9M675.9 236.52h-1.9M555.9 232.44h1.9M675.9 232.44h-1.9M555.9 228.36h1.9M675.9 228.36h-1.9M555.9 224.28h1.9M675.9 224.28h-1.9M555.9 216.12h1.9M675.9 216.12h-1.9M555.9 212.04h1.9M675.9 212.04h-1.9M555.9 207.96h1.9M675.9 207.96h-1.9M555.9 203.88h1.9M675.9 203.88h-1.9M555.9 195.72h1.9M675.9 195.72h-1.9M555.9 191.64h1.9M675.9 191.64h-1.9M555.9 187.56h1.9M675.9 187.56h-1.9M555.9 183.48h1.9M675.9 183.48h-1.9" stroke="#222" stroke-width="0.8" fill="none"/>
<rect x="555.9" y="179.4" width="120" height="102" fill="none" stroke="#222" stroke-width="1.0"/>
<g clip-path="url(#c179_3)">
<circle cx="630.62" cy="214" r="1.75" fill="#3f88cc" stroke="#0a1420" stroke-width="0.75"/>
<circle cx="626.88" cy="219.38" r="1.75" fill="#3f88cc" stroke="#0a1420" stroke-width="0.75"/>
<circle cx="624.38" cy="220.62" r="1.75" fill="#3f88cc" stroke="#0a1420" stroke-width="0.75"/>
<circle cx="622.5" cy="223.12" r="1.75" fill="#3f88cc" stroke="#0a1420" stroke-width="0.75"/>
<circle cx="621.88" cy="226.88" r="1.75" fill="#3f88cc" stroke="#0a1420" stroke-width="0.75"/>
<circle cx="618.75" cy="225" r="1.75" fill="#3f88cc" stroke="#0a1420" stroke-width="0.75"/>
<circle cx="617.5" cy="228.12" r="1.75" fill="#3f88cc" stroke="#0a1420" stroke-width="0.75"/>
<circle cx="618.12" cy="230.62" r="1.75" fill="#3f88cc" stroke="#0a1420" stroke-width="0.75"/>
<circle cx="615.62" cy="232.5" r="1.75" fill="#3f88cc" stroke="#0a1420" stroke-width="0.75"/>
<circle cx="613.12" cy="230" r="1.75" fill="#3f88cc" stroke="#0a1420" stroke-width="0.75"/>
<circle cx="611.25" cy="231.88" r="1.75" fill="#3f88cc" stroke="#0a1420" stroke-width="0.75"/>
<circle cx="609.38" cy="233.12" r="1.75" fill="#3f88cc" stroke="#0a1420" stroke-width="0.75"/>
<circle cx="611.88" cy="235.62" r="1.75" fill="#3f88cc" stroke="#0a1420" stroke-width="0.75"/>
<circle cx="608.12" cy="235.62" r="1.75" fill="#3f88cc" stroke="#0a1420" stroke-width="0.75"/>
<circle cx="603.75" cy="236.88" r="1.75" fill="#3f88cc" stroke="#0a1420" stroke-width="0.75"/>
<circle cx="606.88" cy="238.12" r="1.75" fill="#3f88cc" stroke="#0a1420" stroke-width="0.75"/>
<circle cx="605" cy="240.62" r="1.75" fill="#3f88cc" stroke="#0a1420" stroke-width="0.75"/>
<circle cx="602.5" cy="238.75" r="1.75" fill="#3f88cc" stroke="#0a1420" stroke-width="0.75"/>
<circle cx="598.75" cy="240" r="1.75" fill="#3f88cc" stroke="#0a1420" stroke-width="0.75"/>
<circle cx="601.25" cy="242.5" r="1.75" fill="#3f88cc" stroke="#0a1420" stroke-width="0.75"/>
<circle cx="598.75" cy="242.5" r="1.75" fill="#3f88cc" stroke="#0a1420" stroke-width="0.75"/>
<circle cx="602.5" cy="245" r="1.75" fill="#3f88cc" stroke="#0a1420" stroke-width="0.75"/>
<circle cx="597.5" cy="245" r="1.75" fill="#3f88cc" stroke="#0a1420" stroke-width="0.75"/>
<circle cx="594.38" cy="246.25" r="1.75" fill="#3f88cc" stroke="#0a1420" stroke-width="0.75"/>
<circle cx="593.75" cy="248.12" r="1.75" fill="#3f88cc" stroke="#0a1420" stroke-width="0.75"/>
<circle cx="595.62" cy="249.38" r="1.75" fill="#3f88cc" stroke="#0a1420" stroke-width="0.75"/>
<circle cx="604.28" cy="237.71" r="1.75" fill="#3f88cc" stroke="#0a1420" stroke-width="0.75"/>
<circle cx="616.23" cy="227.08" r="1.75" fill="#3f88cc" stroke="#0a1420" stroke-width="0.75"/>
<circle cx="600.26" cy="240.27" r="1.75" fill="#3f88cc" stroke="#0a1420" stroke-width="0.75"/>
<circle cx="606.27" cy="241.11" r="1.75" fill="#3f88cc" stroke="#0a1420" stroke-width="0.75"/>
<circle cx="613.89" cy="227.53" r="1.75" fill="#3f88cc" stroke="#0a1420" stroke-width="0.75"/>
<circle cx="611.08" cy="231.87" r="1.75" fill="#3f88cc" stroke="#0a1420" stroke-width="0.75"/>
<circle cx="603.16" cy="238.16" r="1.75" fill="#3f88cc" stroke="#0a1420" stroke-width="0.75"/>
<circle cx="603.8" cy="236.73" r="1.75" fill="#3f88cc" stroke="#0a1420" stroke-width="0.75"/>
<circle cx="598.44" cy="241.48" r="1.75" fill="#3f88cc" stroke="#0a1420" stroke-width="0.75"/>
<circle cx="622.22" cy="224.01" r="1.75" fill="#3f88cc" stroke="#0a1420" stroke-width="0.75"/>
<circle cx="608.3" cy="234.58" r="1.75" fill="#3f88cc" stroke="#0a1420" stroke-width="0.75"/>
<circle cx="624.16" cy="221.65" r="1.75" fill="#3f88cc" stroke="#0a1420" stroke-width="0.75"/>
<line x1="555.9" y1="281.4" x2="675.9" y2="179.4" stroke="#111" stroke-width="1.15"/>
</g>
<rect x="560" y="183.6" width="60.3" height="14.6" rx="1.8" fill="#fff" fill-opacity="0.85" stroke="#c8c8c8" stroke-width="0.85"/>
<circle cx="572.1" cy="191" r="1.75" fill="#3f88cc" stroke="#0a1420" stroke-width="0.6"/>
<text x="587.1" y="194.4" font-family="'Liberation Serif', serif" font-size="9" text-anchor="start" fill="#1e1e1e" textLength="29.7" lengthAdjust="spacingAndGlyphs" >4×4×4</text>
<text x="555.2" y="291.5" font-family="'Liberation Sans', sans-serif" font-size="8.2" text-anchor="middle" fill="#2a2a2a" textLength="16.2" lengthAdjust="spacingAndGlyphs" >−50</text>
<text x="579.2" y="291.5" font-family="'Liberation Sans', sans-serif" font-size="8.2" text-anchor="middle" fill="#2a2a2a" textLength="16.2" lengthAdjust="spacingAndGlyphs" >−45</text>
<text x="603.2" y="291.5" font-family="'Liberation Sans', sans-serif" font-size="8.2" text-anchor="middle" fill="#2a2a2a" textLength="16.2" lengthAdjust="spacingAndGlyphs" >−40</text>
<text x="627.2" y="291.5" font-family="'Liberation Sans', sans-serif" font-size="8.2" text-anchor="middle" fill="#2a2a2a" textLength="16.2" lengthAdjust="spacingAndGlyphs" >−35</text>
<text x="651.2" y="291.5" font-family="'Liberation Sans', sans-serif" font-size="8.2" text-anchor="middle" fill="#2a2a2a" textLength="16.2" lengthAdjust="spacingAndGlyphs" >−30</text>
<text x="675.2" y="291.5" font-family="'Liberation Sans', sans-serif" font-size="8.2" text-anchor="middle" fill="#2a2a2a" textLength="16.2" lengthAdjust="spacingAndGlyphs" >−25</text>
<text x="550.3" y="284.35" font-family="'Liberation Sans', sans-serif" font-size="8.2" text-anchor="end" fill="#2a2a2a" textLength="16.2" lengthAdjust="spacingAndGlyphs" >−50</text>
<text x="550.3" y="263.95" font-family="'Liberation Sans', sans-serif" font-size="8.2" text-anchor="end" fill="#2a2a2a" textLength="16.2" lengthAdjust="spacingAndGlyphs" >−45</text>
<text x="550.3" y="243.55" font-family="'Liberation Sans', sans-serif" font-size="8.2" text-anchor="end" fill="#2a2a2a" textLength="16.2" lengthAdjust="spacingAndGlyphs" >−40</text>
<text x="550.3" y="223.15" font-family="'Liberation Sans', sans-serif" font-size="8.2" text-anchor="end" fill="#2a2a2a" textLength="16.2" lengthAdjust="spacingAndGlyphs" >−35</text>
<text x="550.3" y="202.75" font-family="'Liberation Sans', sans-serif" font-size="8.2" text-anchor="end" fill="#2a2a2a" textLength="16.2" lengthAdjust="spacingAndGlyphs" >−30</text>
<text x="550.3" y="182.35" font-family="'Liberation Sans', sans-serif" font-size="8.2" text-anchor="end" fill="#2a2a2a" textLength="16.2" lengthAdjust="spacingAndGlyphs" >−25</text>
<text x="571" y="304.8" font-family="'Liberation Serif', serif" font-size="9.6" text-anchor="start" fill="#1e1e1e" textLength="19.3" lengthAdjust="spacingAndGlyphs" >True</text>
<text x="594.3" y="304.8" font-family="'Liberation Sans', sans-serif" font-size="10.4" text-anchor="start" fill="#2a2a2a" textLength="6.6" lengthAdjust="spacingAndGlyphs" font-style="italic" >E</text>
<text x="599.5" y="306.3" font-family="'Liberation Sans', sans-serif" font-size="7" text-anchor="start" fill="#2a2a2a" textLength="2.5" lengthAdjust="spacingAndGlyphs" font-style="italic" >f</text>
<text x="606" y="304.8" font-family="'Liberation Serif', serif" font-size="9.6" text-anchor="start" fill="#1e1e1e" textLength="52.8" lengthAdjust="spacingAndGlyphs" >(meV/atom)</text>
<g transform="translate(526.5,230.4) rotate(-90)">
<text x="-38.2" y="0" font-family="'Liberation Sans', sans-serif" font-size="9.8" text-anchor="start" fill="#2a2a2a" textLength="6" lengthAdjust="spacingAndGlyphs" font-style="italic" >E</text>
<text x="-32.7" y="1.7" font-family="'Liberation Sans', sans-serif" font-size="6.8" text-anchor="start" fill="#2a2a2a" textLength="2.2" lengthAdjust="spacingAndGlyphs" font-style="italic" >f</text>
<text x="-31" y="1.6" font-family="'Liberation Sans', sans-serif" font-size="6.4" text-anchor="start" fill="#2a2a2a" textLength="1.2" lengthAdjust="spacingAndGlyphs" >,</text>
<text x="-29.6" y="1.7" font-family="'Liberation Sans', sans-serif" font-size="6.6" text-anchor="start" fill="#2a2a2a" textLength="13.4" lengthAdjust="spacingAndGlyphs" >GNN</text>
<text x="-14.5" y="0" font-family="'Liberation Serif', serif" font-size="9.6" text-anchor="start" fill="#1e1e1e" textLength="52.1" lengthAdjust="spacingAndGlyphs" >(meV/atom)</text>
</g>
<text x="534.9" y="164.8" font-family="'Liberation Sans', sans-serif" font-size="14.4" text-anchor="start" fill="#2a2a2a" >(h)</text>
<clipPath id="c326_0"><rect x="38.2" y="326.7" width="120" height="101.5"/></clipPath>
<path d="M68.2 428.2v-3.4M68.2 326.7v3.4M98.2 428.2v-3.4M98.2 326.7v3.4M128.2 428.2v-3.4M128.2 326.7v3.4M45.7 428.2v-1.9M45.7 326.7v1.9M53.2 428.2v-1.9M53.2 326.7v1.9M60.7 428.2v-1.9M60.7 326.7v1.9M75.7 428.2v-1.9M75.7 326.7v1.9M83.2 428.2v-1.9M83.2 326.7v1.9M90.7 428.2v-1.9M90.7 326.7v1.9M105.7 428.2v-1.9M105.7 326.7v1.9M113.2 428.2v-1.9M113.2 326.7v1.9M120.7 428.2v-1.9M120.7 326.7v1.9M135.7 428.2v-1.9M135.7 326.7v1.9M143.2 428.2v-1.9M143.2 326.7v1.9M150.7 428.2v-1.9M150.7 326.7v1.9M38.2 402.82h3.4M158.2 402.82h-3.4M38.2 377.45h3.4M158.2 377.45h-3.4M38.2 352.07h3.4M158.2 352.07h-3.4M38.2 421.86h1.9M158.2 421.86h-1.9M38.2 415.51h1.9M158.2 415.51h-1.9M38.2 409.17h1.9M158.2 409.17h-1.9M38.2 396.48h1.9M158.2 396.48h-1.9M38.2 390.14h1.9M158.2 390.14h-1.9M38.2 383.79h1.9M158.2 383.79h-1.9M38.2 371.11h1.9M158.2 371.11h-1.9M38.2 364.76h1.9M158.2 364.76h-1.9M38.2 358.42h1.9M158.2 358.42h-1.9M38.2 345.73h1.9M158.2 345.73h-1.9M38.2 339.39h1.9M158.2 339.39h-1.9M38.2 333.04h1.9M158.2 333.04h-1.9" stroke="#222" stroke-width="0.8" fill="none"/>
<rect x="38.2" y="326.7" width="120" height="101.5" fill="none" stroke="#222" stroke-width="1.0"/>
<g clip-path="url(#c326_0)">
<circle cx="49" cy="350.62" r="1.95" fill="#a6ee9a" stroke="#0f1f0f" stroke-width="0.75"/>
<circle cx="52.75" cy="351.5" r="1.95" fill="#a6ee9a" stroke="#0f1f0f" stroke-width="0.75"/>
<circle cx="62.38" cy="351" r="1.95" fill="#a6ee9a" stroke="#0f1f0f" stroke-width="0.75"/>
<circle cx="64.25" cy="354.38" r="1.95" fill="#a6ee9a" stroke="#0f1f0f" stroke-width="0.75"/>
<circle cx="67.38" cy="356.88" r="1.95" fill="#a6ee9a" stroke="#0f1f0f" stroke-width="0.75"/>
<circle cx="68" cy="360.62" r="1.95" fill="#a6ee9a" stroke="#0f1f0f" stroke-width="0.75"/>
<circle cx="74" cy="360" r="1.95" fill="#a6ee9a" stroke="#0f1f0f" stroke-width="0.75"/>
<circle cx="82.38" cy="357.5" r="1.95" fill="#a6ee9a" stroke="#0f1f0f" stroke-width="0.75"/>
<circle cx="43" cy="358.12" r="1.95" fill="#a6ee9a" stroke="#0f1f0f" stroke-width="0.75"/>
<circle cx="43.62" cy="360.62" r="1.95" fill="#a6ee9a" stroke="#0f1f0f" stroke-width="0.75"/>
<circle cx="49.25" cy="359" r="1.95" fill="#a6ee9a" stroke="#0f1f0f" stroke-width="0.75"/>
<circle cx="49" cy="363.5" r="1.95" fill="#a6ee9a" stroke="#0f1f0f" stroke-width="0.75"/>
<circle cx="46.12" cy="366.25" r="1.95" fill="#a6ee9a" stroke="#0f1f0f" stroke-width="0.75"/>
<circle cx="47" cy="368.5" r="1.95" fill="#a6ee9a" stroke="#0f1f0f" stroke-width="0.75"/>
<circle cx="56.5" cy="365" r="1.95" fill="#a6ee9a" stroke="#0f1f0f" stroke-width="0.75"/>
<circle cx="63" cy="367.25" r="1.95" fill="#a6ee9a" stroke="#0f1f0f" stroke-width="0.75"/>
<circle cx="66.75" cy="367.5" r="1.95" fill="#a6ee9a" stroke="#0f1f0f" stroke-width="0.75"/>
<circle cx="70.25" cy="366.25" r="1.95" fill="#a6ee9a" stroke="#0f1f0f" stroke-width="0.75"/>
<circle cx="74.88" cy="365.25" r="1.95" fill="#a6ee9a" stroke="#0f1f0f" stroke-width="0.75"/>
<circle cx="70.5" cy="370.62" r="1.95" fill="#a6ee9a" stroke="#0f1f0f" stroke-width="0.75"/>
<circle cx="41.5" cy="368.75" r="1.95" fill="#a6ee9a" stroke="#0f1f0f" stroke-width="0.75"/>
<circle cx="39.5" cy="371.25" r="1.95" fill="#a6ee9a" stroke="#0f1f0f" stroke-width="0.75"/>
<circle cx="38.62" cy="373.12" r="1.95" fill="#a6ee9a" stroke="#0f1f0f" stroke-width="0.75"/>
<circle cx="50.5" cy="371.25" r="1.95" fill="#a6ee9a" stroke="#0f1f0f" stroke-width="0.75"/>
<circle cx="53.62" cy="371.88" r="1.95" fill="#a6ee9a" stroke="#0f1f0f" stroke-width="0.75"/>
<circle cx="59.25" cy="371.25" r="1.95" fill="#a6ee9a" stroke="#0f1f0f" stroke-width="0.75"/>
<circle cx="62.38" cy="370.62" r="1.95" fill="#a6ee9a" stroke="#0f1f0f" stroke-width="0.75"/>
<circle cx="58.62" cy="373.12" r="1.95" fill="#a6ee9a" stroke="#0f1f0f" stroke-width="0.75"/>
<circle cx="66.75" cy="375" r="1.95" fill="#a6ee9a" stroke="#0f1f0f" stroke-width="0.75"/>
<circle cx="69.25" cy="378.5" r="1.95" fill="#a6ee9a" stroke="#0f1f0f" stroke-width="0.75"/>
<circle cx="62.38" cy="376.88" r="1.95" fill="#a6ee9a" stroke="#0f1f0f" stroke-width="0.75"/>
<circle cx="56.75" cy="376.88" r="1.95" fill="#a6ee9a" stroke="#0f1f0f" stroke-width="0.75"/>
<circle cx="53.62" cy="377.25" r="1.95" fill="#a6ee9a" stroke="#0f1f0f" stroke-width="0.75"/>
<circle cx="49.88" cy="376.88" r="1.95" fill="#a6ee9a" stroke="#0f1f0f" stroke-width="0.75"/>
<circle cx="46.12" cy="377.75" r="1.95" fill="#a6ee9a" stroke="#0f1f0f" stroke-width="0.75"/>
<circle cx="41.75" cy="378.75" r="1.95" fill="#a6ee9a" stroke="#0f1f0f" stroke-width="0.75"/>
<circle cx="38" cy="378.75" r="1.95" fill="#a6ee9a" stroke="#0f1f0f" stroke-width="0.75"/>
<circle cx="47.38" cy="380.62" r="1.95" fill="#a6ee9a" stroke="#0f1f0f" stroke-width="0.75"/>
<circle cx="51.12" cy="382.25" r="1.95" fill="#a6ee9a" stroke="#0f1f0f" stroke-width="0.75"/>
<circle cx="53.62" cy="382.5" r="1.95" fill="#a6ee9a" stroke="#0f1f0f" stroke-width="0.75"/>
<circle cx="58" cy="380.62" r="1.95" fill="#a6ee9a" stroke="#0f1f0f" stroke-width="0.75"/>
<circle cx="66.12" cy="383.12" r="1.95" fill="#a6ee9a" stroke="#0f1f0f" stroke-width="0.75"/>
<circle cx="70.25" cy="383.5" r="1.95" fill="#a6ee9a" stroke="#0f1f0f" stroke-width="0.75"/>
<circle cx="78.25" cy="378.75" r="1.95" fill="#a6ee9a" stroke="#0f1f0f" stroke-width="0.75"/>
<circle cx="94" cy="374.75" r="1.95" fill="#a6ee9a" stroke="#0f1f0f" stroke-width="0.75"/>
<circle cx="41.75" cy="385.62" r="1.95" fill="#a6ee9a" stroke="#0f1f0f" stroke-width="0.75"/>
<circle cx="44.88" cy="385" r="1.95" fill="#a6ee9a" stroke="#0f1f0f" stroke-width="0.75"/>
<circle cx="46.12" cy="388.12" r="1.95" fill="#a6ee9a" stroke="#0f1f0f" stroke-width="0.75"/>
<circle cx="43" cy="388.75" r="1.95" fill="#a6ee9a" stroke="#0f1f0f" stroke-width="0.75"/>
<circle cx="39.88" cy="391.5" r="1.95" fill="#a6ee9a" stroke="#0f1f0f" stroke-width="0.75"/>
<circle cx="53.62" cy="388.12" r="1.95" fill="#a6ee9a" stroke="#0f1f0f" stroke-width="0.75"/>
<circle cx="57.38" cy="389.38" r="1.95" fill="#a6ee9a" stroke="#0f1f0f" stroke-width="0.75"/>
<circle cx="63" cy="389" r="1.95" fill="#a6ee9a" stroke="#0f1f0f" stroke-width="0.75"/>
<circle cx="63.62" cy="392.25" r="1.95" fill="#a6ee9a" stroke="#0f1f0f" stroke-width="0.75"/>
<circle cx="54" cy="394.38" r="1.95" fill="#a6ee9a" stroke="#0f1f0f" stroke-width="0.75"/>
<circle cx="49.88" cy="396.88" r="1.95" fill="#a6ee9a" stroke="#0f1f0f" stroke-width="0.75"/>
<circle cx="71.12" cy="393.75" r="1.95" fill="#a6ee9a" stroke="#0f1f0f" stroke-width="0.75"/>
<circle cx="61.75" cy="401.88" r="1.95" fill="#a6ee9a" stroke="#0f1f0f" stroke-width="0.75"/>
<circle cx="38" cy="382.5" r="1.95" fill="#a6ee9a" stroke="#0f1f0f" stroke-width="0.75"/>
<circle cx="38" cy="390" r="1.95" fill="#a6ee9a" stroke="#0f1f0f" stroke-width="0.75"/>
<line x1="38.2" y1="428.2" x2="158.2" y2="326.7" stroke="#111" stroke-width="1.15"/>
</g>
<rect x="42.3" y="330.9" width="60.3" height="14.6" rx="1.8" fill="#fff" fill-opacity="0.85" stroke="#c8c8c8" stroke-width="0.85"/>
<circle cx="54.4" cy="338.3" r="1.95" fill="#a6ee9a" stroke="#0f1f0f" stroke-width="0.6"/>
<text x="69.4" y="341.7" font-family="'Liberation Serif', serif" font-size="9" text-anchor="start" fill="#1e1e1e" textLength="29.7" lengthAdjust="spacingAndGlyphs" >6×6×6</text>
<text x="37.5" y="438.7" font-family="'Liberation Sans', sans-serif" font-size="8.2" text-anchor="middle" fill="#2a2a2a" textLength="16.2" lengthAdjust="spacingAndGlyphs" >−43</text>
<text x="67.5" y="438.7" font-family="'Liberation Sans', sans-serif" font-size="8.2" text-anchor="middle" fill="#2a2a2a" textLength="16.2" lengthAdjust="spacingAndGlyphs" >−41</text>
<text x="97.5" y="438.7" font-family="'Liberation Sans', sans-serif" font-size="8.2" text-anchor="middle" fill="#2a2a2a" textLength="16.2" lengthAdjust="spacingAndGlyphs" >−39</text>
<text x="127.5" y="438.7" font-family="'Liberation Sans', sans-serif" font-size="8.2" text-anchor="middle" fill="#2a2a2a" textLength="16.2" lengthAdjust="spacingAndGlyphs" >−37</text>
<text x="157.5" y="438.7" font-family="'Liberation Sans', sans-serif" font-size="8.2" text-anchor="middle" fill="#2a2a2a" textLength="16.2" lengthAdjust="spacingAndGlyphs" >−35</text>
<text x="32.6" y="431.15" font-family="'Liberation Sans', sans-serif" font-size="8.2" text-anchor="end" fill="#2a2a2a" textLength="16.2" lengthAdjust="spacingAndGlyphs" >−43</text>
<text x="32.6" y="405.77" font-family="'Liberation Sans', sans-serif" font-size="8.2" text-anchor="end" fill="#2a2a2a" textLength="16.2" lengthAdjust="spacingAndGlyphs" >−41</text>
<text x="32.6" y="380.4" font-family="'Liberation Sans', sans-serif" font-size="8.2" text-anchor="end" fill="#2a2a2a" textLength="16.2" lengthAdjust="spacingAndGlyphs" >−39</text>
<text x="32.6" y="355.02" font-family="'Liberation Sans', sans-serif" font-size="8.2" text-anchor="end" fill="#2a2a2a" textLength="16.2" lengthAdjust="spacingAndGlyphs" >−37</text>
<text x="32.6" y="329.65" font-family="'Liberation Sans', sans-serif" font-size="8.2" text-anchor="end" fill="#2a2a2a" textLength="16.2" lengthAdjust="spacingAndGlyphs" >−35</text>
<text x="53.3" y="451.6" font-family="'Liberation Serif', serif" font-size="9.6" text-anchor="start" fill="#1e1e1e" textLength="19.3" lengthAdjust="spacingAndGlyphs" >True</text>
<text x="76.6" y="451.6" font-family="'Liberation Sans', sans-serif" font-size="10.4" text-anchor="start" fill="#2a2a2a" textLength="6.6" lengthAdjust="spacingAndGlyphs" font-style="italic" >E</text>
<text x="81.8" y="453.1" font-family="'Liberation Sans', sans-serif" font-size="7" text-anchor="start" fill="#2a2a2a" textLength="2.5" lengthAdjust="spacingAndGlyphs" font-style="italic" >f</text>
<text x="88.3" y="451.6" font-family="'Liberation Serif', serif" font-size="9.6" text-anchor="start" fill="#1e1e1e" textLength="52.8" lengthAdjust="spacingAndGlyphs" >(meV/atom)</text>
<g transform="translate(8.8,377.45) rotate(-90)">
<text x="-40.1" y="0" font-family="'Liberation Sans', sans-serif" font-size="9.8" text-anchor="start" fill="#2a2a2a" textLength="6" lengthAdjust="spacingAndGlyphs" font-style="italic" >E</text>
<text x="-34.6" y="1.7" font-family="'Liberation Sans', sans-serif" font-size="6.8" text-anchor="start" fill="#2a2a2a" textLength="2.2" lengthAdjust="spacingAndGlyphs" font-style="italic" >f</text>
<text x="-32.9" y="1.6" font-family="'Liberation Sans', sans-serif" font-size="6.4" text-anchor="start" fill="#2a2a2a" textLength="1.2" lengthAdjust="spacingAndGlyphs" >,</text>
<text x="-31.5" y="1.7" font-family="'Liberation Sans', sans-serif" font-size="6.6" text-anchor="start" fill="#2a2a2a" textLength="13.4" lengthAdjust="spacingAndGlyphs" >GNN</text>
<text x="-13" y="0" font-family="'Liberation Serif', serif" font-size="9.6" text-anchor="start" fill="#1e1e1e" textLength="52.1" lengthAdjust="spacingAndGlyphs" >(meV/atom)</text>
</g>
<text x="23.1" y="313.1" font-family="'Liberation Sans', sans-serif" font-size="14.4" text-anchor="start" fill="#2a2a2a" >(i)</text>
<clipPath id="c326_1"><rect x="210.8" y="326.7" width="120" height="101.5"/></clipPath>
<path d="M240.8 428.2v-3.4M240.8 326.7v3.4M270.8 428.2v-3.4M270.8 326.7v3.4M300.8 428.2v-3.4M300.8 326.7v3.4M218.3 428.2v-1.9M218.3 326.7v1.9M225.8 428.2v-1.9M225.8 326.7v1.9M233.3 428.2v-1.9M233.3 326.7v1.9M248.3 428.2v-1.9M248.3 326.7v1.9M255.8 428.2v-1.9M255.8 326.7v1.9M263.3 428.2v-1.9M263.3 326.7v1.9M278.3 428.2v-1.9M278.3 326.7v1.9M285.8 428.2v-1.9M285.8 326.7v1.9M293.3 428.2v-1.9M293.3 326.7v1.9M308.3 428.2v-1.9M308.3 326.7v1.9M315.8 428.2v-1.9M315.8 326.7v1.9M323.3 428.2v-1.9M323.3 326.7v1.9M210.8 402.82h3.4M330.8 402.82h-3.4M210.8 377.45h3.4M330.8 377.45h-3.4M210.8 352.07h3.4M330.8 352.07h-3.4M210.8 421.86h1.9M330.8 421.86h-1.9M210.8 415.51h1.9M330.8 415.51h-1.9M210.8 409.17h1.9M330.8 409.17h-1.9M210.8 396.48h1.9M330.8 396.48h-1.9M210.8 390.14h1.9M330.8 390.14h-1.9M210.8 383.79h1.9M330.8 383.79h-1.9M210.8 371.11h1.9M330.8 371.11h-1.9M210.8 364.76h1.9M330.8 364.76h-1.9M210.8 358.42h1.9M330.8 358.42h-1.9M210.8 345.73h1.9M330.8 345.73h-1.9M210.8 339.39h1.9M330.8 339.39h-1.9M210.8 333.04h1.9M330.8 333.04h-1.9" stroke="#222" stroke-width="0.8" fill="none"/>
<rect x="210.8" y="326.7" width="120" height="101.5" fill="none" stroke="#222" stroke-width="1.0"/>
<g clip-path="url(#c326_1)">
<circle cx="238.12" cy="402.75" r="1.95" fill="#a6ee9a" stroke="#0f1f0f" stroke-width="0.75"/>
<circle cx="241" cy="391.25" r="1.95" fill="#a6ee9a" stroke="#0f1f0f" stroke-width="0.75"/>
<circle cx="241.88" cy="396.88" r="1.95" fill="#a6ee9a" stroke="#0f1f0f" stroke-width="0.75"/>
<circle cx="245.62" cy="394.38" r="1.95" fill="#a6ee9a" stroke="#0f1f0f" stroke-width="0.75"/>
<circle cx="248.75" cy="393.12" r="1.95" fill="#a6ee9a" stroke="#0f1f0f" stroke-width="0.75"/>
<circle cx="250" cy="388.75" r="1.95" fill="#a6ee9a" stroke="#0f1f0f" stroke-width="0.75"/>
<circle cx="251.25" cy="388.75" r="1.95" fill="#a6ee9a" stroke="#0f1f0f" stroke-width="0.75"/>
<circle cx="252.5" cy="391.25" r="1.95" fill="#a6ee9a" stroke="#0f1f0f" stroke-width="0.75"/>
<circle cx="255" cy="392.5" r="1.95" fill="#a6ee9a" stroke="#0f1f0f" stroke-width="0.75"/>
<circle cx="255.62" cy="387.5" r="1.95" fill="#a6ee9a" stroke="#0f1f0f" stroke-width="0.75"/>
<circle cx="254.38" cy="384.38" r="1.95" fill="#a6ee9a" stroke="#0f1f0f" stroke-width="0.75"/>
<circle cx="251.88" cy="381.88" r="1.95" fill="#a6ee9a" stroke="#0f1f0f" stroke-width="0.75"/>
<circle cx="255" cy="379.38" r="1.95" fill="#a6ee9a" stroke="#0f1f0f" stroke-width="0.75"/>
<circle cx="257.5" cy="380" r="1.95" fill="#a6ee9a" stroke="#0f1f0f" stroke-width="0.75"/>
<circle cx="258.75" cy="382.5" r="1.95" fill="#a6ee9a" stroke="#0f1f0f" stroke-width="0.75"/>
<circle cx="260.62" cy="383.12" r="1.95" fill="#a6ee9a" stroke="#0f1f0f" stroke-width="0.75"/>
<circle cx="261.88" cy="380" r="1.95" fill="#a6ee9a" stroke="#0f1f0f" stroke-width="0.75"/>
<circle cx="260" cy="377.5" r="1.95" fill="#a6ee9a" stroke="#0f1f0f" stroke-width="0.75"/>
<circle cx="256.88" cy="375.62" r="1.95" fill="#a6ee9a" stroke="#0f1f0f" stroke-width="0.75"/>
<circle cx="259.38" cy="372.5" r="1.95" fill="#a6ee9a" stroke="#0f1f0f" stroke-width="0.75"/>
<circle cx="263.12" cy="373.75" r="1.95" fill="#a6ee9a" stroke="#0f1f0f" stroke-width="0.75"/>
<circle cx="265" cy="376.88" r="1.95" fill="#a6ee9a" stroke="#0f1f0f" stroke-width="0.75"/>
<circle cx="264.38" cy="385" r="1.95" fill="#a6ee9a" stroke="#0f1f0f" stroke-width="0.75"/>
<circle cx="266.25" cy="381.25" r="1.95" fill="#a6ee9a" stroke="#0f1f0f" stroke-width="0.75"/>
<circle cx="266.88" cy="378.12" r="1.95" fill="#a6ee9a" stroke="#0f1f0f" stroke-width="0.75"/>
<circle cx="268.12" cy="375" r="1.95" fill="#a6ee9a" stroke="#0f1f0f" stroke-width="0.75"/>
<circle cx="269.38" cy="371.88" r="1.95" fill="#a6ee9a" stroke="#0f1f0f" stroke-width="0.75"/>
<circle cx="271.25" cy="375" r="1.95" fill="#a6ee9a" stroke="#0f1f0f" stroke-width="0.75"/>
<circle cx="272.5" cy="372.5" r="1.95" fill="#a6ee9a" stroke="#0f1f0f" stroke-width="0.75"/>
<circle cx="274.38" cy="371.25" r="1.95" fill="#a6ee9a" stroke="#0f1f0f" stroke-width="0.75"/>
<circle cx="276.25" cy="370.62" r="1.95" fill="#a6ee9a" stroke="#0f1f0f" stroke-width="0.75"/>
<circle cx="266.88" cy="370.62" r="1.95" fill="#a6ee9a" stroke="#0f1f0f" stroke-width="0.75"/>
<circle cx="263.12" cy="355" r="1.95" fill="#a6ee9a" stroke="#0f1f0f" stroke-width="0.75"/>
<circle cx="288.75" cy="350.62" r="1.95" fill="#a6ee9a" stroke="#0f1f0f" stroke-width="0.75"/>
<circle cx="291.88" cy="351.25" r="1.95" fill="#a6ee9a" stroke="#0f1f0f" stroke-width="0.75"/>
<circle cx="290.62" cy="354.38" r="1.95" fill="#a6ee9a" stroke="#0f1f0f" stroke-width="0.75"/>
<circle cx="287.5" cy="352.5" r="1.95" fill="#a6ee9a" stroke="#0f1f0f" stroke-width="0.75"/>
<circle cx="283.12" cy="353.75" r="1.95" fill="#a6ee9a" stroke="#0f1f0f" stroke-width="0.75"/>
<circle cx="285" cy="356.88" r="1.95" fill="#a6ee9a" stroke="#0f1f0f" stroke-width="0.75"/>
<circle cx="288.12" cy="357.5" r="1.95" fill="#a6ee9a" stroke="#0f1f0f" stroke-width="0.75"/>
<circle cx="283.75" cy="360" r="1.95" fill="#a6ee9a" stroke="#0f1f0f" stroke-width="0.75"/>
<circle cx="281.25" cy="358.12" r="1.95" fill="#a6ee9a" stroke="#0f1f0f" stroke-width="0.75"/>
<circle cx="278.75" cy="358.75" r="1.95" fill="#a6ee9a" stroke="#0f1f0f" stroke-width="0.75"/>
<circle cx="276.88" cy="360.62" r="1.95" fill="#a6ee9a" stroke="#0f1f0f" stroke-width="0.75"/>
<circle cx="275.62" cy="363.12" r="1.95" fill="#a6ee9a" stroke="#0f1f0f" stroke-width="0.75"/>
<circle cx="273.75" cy="364.38" r="1.95" fill="#a6ee9a" stroke="#0f1f0f" stroke-width="0.75"/>
<circle cx="271.88" cy="360.62" r="1.95" fill="#a6ee9a" stroke="#0f1f0f" stroke-width="0.75"/>
<circle cx="270" cy="362.5" r="1.95" fill="#a6ee9a" stroke="#0f1f0f" stroke-width="0.75"/>
<circle cx="268.12" cy="363.75" r="1.95" fill="#a6ee9a" stroke="#0f1f0f" stroke-width="0.75"/>
<circle cx="268.75" cy="366.25" r="1.95" fill="#a6ee9a" stroke="#0f1f0f" stroke-width="0.75"/>
<circle cx="271.25" cy="368.12" r="1.95" fill="#a6ee9a" stroke="#0f1f0f" stroke-width="0.75"/>
<circle cx="274.38" cy="370.62" r="1.95" fill="#a6ee9a" stroke="#0f1f0f" stroke-width="0.75"/>
<circle cx="277.5" cy="367.5" r="1.95" fill="#a6ee9a" stroke="#0f1f0f" stroke-width="0.75"/>
<circle cx="280" cy="366.88" r="1.95" fill="#a6ee9a" stroke="#0f1f0f" stroke-width="0.75"/>
<circle cx="276.88" cy="365" r="1.95" fill="#a6ee9a" stroke="#0f1f0f" stroke-width="0.75"/>
<circle cx="285" cy="363.75" r="1.95" fill="#a6ee9a" stroke="#0f1f0f" stroke-width="0.75"/>
<circle cx="266.88" cy="370.62" r="1.95" fill="#a6ee9a" stroke="#0f1f0f" stroke-width="0.75"/>
<circle cx="264.38" cy="373.12" r="1.95" fill="#a6ee9a" stroke="#0f1f0f" stroke-width="0.75"/>
<circle cx="260" cy="371.88" r="1.95" fill="#a6ee9a" stroke="#0f1f0f" stroke-width="0.75"/>
<circle cx="257.5" cy="375" r="1.95" fill="#a6ee9a" stroke="#0f1f0f" stroke-width="0.75"/>
<circle cx="256.25" cy="378.12" r="1.95" fill="#a6ee9a" stroke="#0f1f0f" stroke-width="0.75"/>
<circle cx="258.75" cy="380" r="1.95" fill="#a6ee9a" stroke="#0f1f0f" stroke-width="0.75"/>
<circle cx="261.25" cy="382.5" r="1.95" fill="#a6ee9a" stroke="#0f1f0f" stroke-width="0.75"/>
<circle cx="263.75" cy="377.5" r="1.95" fill="#a6ee9a" stroke="#0f1f0f" stroke-width="0.75"/>
<circle cx="267.5" cy="378.12" r="1.95" fill="#a6ee9a" stroke="#0f1f0f" stroke-width="0.75"/>
<circle cx="264.38" cy="384.38" r="1.95" fill="#a6ee9a" stroke="#0f1f0f" stroke-width="0.75"/>
<circle cx="257.5" cy="386.88" r="1.95" fill="#a6ee9a" stroke="#0f1f0f" stroke-width="0.75"/>
<circle cx="255.62" cy="391.88" r="1.95" fill="#a6ee9a" stroke="#0f1f0f" stroke-width="0.75"/>
<circle cx="255" cy="382.5" r="1.95" fill="#a6ee9a" stroke="#0f1f0f" stroke-width="0.75"/>
<circle cx="270.62" cy="375" r="1.95" fill="#a6ee9a" stroke="#0f1f0f" stroke-width="0.75"/>
<circle cx="262.5" cy="375" r="1.95" fill="#a6ee9a" stroke="#0f1f0f" stroke-width="0.75"/>
<circle cx="265.56" cy="370.08" r="1.95" fill="#a6ee9a" stroke="#0f1f0f" stroke-width="0.75"/>
<circle cx="268.01" cy="372.12" r="1.95" fill="#a6ee9a" stroke="#0f1f0f" stroke-width="0.75"/>
<circle cx="270.68" cy="371.13" r="1.95" fill="#a6ee9a" stroke="#0f1f0f" stroke-width="0.75"/>
<circle cx="271.19" cy="371.4" r="1.95" fill="#a6ee9a" stroke="#0f1f0f" stroke-width="0.75"/>
<circle cx="278.17" cy="367.93" r="1.95" fill="#a6ee9a" stroke="#0f1f0f" stroke-width="0.75"/>
<circle cx="259.8" cy="378.93" r="1.95" fill="#a6ee9a" stroke="#0f1f0f" stroke-width="0.75"/>
<circle cx="249.66" cy="388.76" r="1.95" fill="#a6ee9a" stroke="#0f1f0f" stroke-width="0.75"/>
<circle cx="244.32" cy="386.62" r="1.95" fill="#a6ee9a" stroke="#0f1f0f" stroke-width="0.75"/>
<circle cx="298.97" cy="357.47" r="1.95" fill="#a6ee9a" stroke="#0f1f0f" stroke-width="0.75"/>
<circle cx="276.81" cy="367.59" r="1.95" fill="#a6ee9a" stroke="#0f1f0f" stroke-width="0.75"/>
<circle cx="254.16" cy="387.59" r="1.95" fill="#a6ee9a" stroke="#0f1f0f" stroke-width="0.75"/>
<circle cx="247.37" cy="389.03" r="1.95" fill="#a6ee9a" stroke="#0f1f0f" stroke-width="0.75"/>
<circle cx="254.29" cy="383.99" r="1.95" fill="#a6ee9a" stroke="#0f1f0f" stroke-width="0.75"/>
<circle cx="269.39" cy="374.32" r="1.95" fill="#a6ee9a" stroke="#0f1f0f" stroke-width="0.75"/>
<circle cx="268.69" cy="376.01" r="1.95" fill="#a6ee9a" stroke="#0f1f0f" stroke-width="0.75"/>
<circle cx="277.2" cy="365.31" r="1.95" fill="#a6ee9a" stroke="#0f1f0f" stroke-width="0.75"/>
<circle cx="270.2" cy="371.36" r="1.95" fill="#a6ee9a" stroke="#0f1f0f" stroke-width="0.75"/>
<circle cx="257.74" cy="378.84" r="1.95" fill="#a6ee9a" stroke="#0f1f0f" stroke-width="0.75"/>
<circle cx="300.47" cy="357.88" r="1.95" fill="#a6ee9a" stroke="#0f1f0f" stroke-width="0.75"/>
<circle cx="282.15" cy="364.71" r="1.95" fill="#a6ee9a" stroke="#0f1f0f" stroke-width="0.75"/>
<circle cx="261.17" cy="379.54" r="1.95" fill="#a6ee9a" stroke="#0f1f0f" stroke-width="0.75"/>
<circle cx="248.9" cy="390.02" r="1.95" fill="#a6ee9a" stroke="#0f1f0f" stroke-width="0.75"/>
<circle cx="283.25" cy="359.54" r="1.95" fill="#a6ee9a" stroke="#0f1f0f" stroke-width="0.75"/>
<circle cx="266.41" cy="378.94" r="1.95" fill="#a6ee9a" stroke="#0f1f0f" stroke-width="0.75"/>
<circle cx="295.76" cy="355.59" r="1.95" fill="#a6ee9a" stroke="#0f1f0f" stroke-width="0.75"/>
<circle cx="255.29" cy="383.19" r="1.95" fill="#a6ee9a" stroke="#0f1f0f" stroke-width="0.75"/>
<line x1="210.8" y1="428.2" x2="330.8" y2="326.7" stroke="#111" stroke-width="1.15"/>
</g>
<rect x="214.9" y="330.9" width="60.3" height="14.6" rx="1.8" fill="#fff" fill-opacity="0.85" stroke="#c8c8c8" stroke-width="0.85"/>
<circle cx="227" cy="338.3" r="1.95" fill="#a6ee9a" stroke="#0f1f0f" stroke-width="0.6"/>
<text x="242" y="341.7" font-family="'Liberation Serif', serif" font-size="9" text-anchor="start" fill="#1e1e1e" textLength="29.7" lengthAdjust="spacingAndGlyphs" >6×6×6</text>
<text x="210.1" y="438.7" font-family="'Liberation Sans', sans-serif" font-size="8.2" text-anchor="middle" fill="#2a2a2a" textLength="16.2" lengthAdjust="spacingAndGlyphs" >−43</text>
<text x="240.1" y="438.7" font-family="'Liberation Sans', sans-serif" font-size="8.2" text-anchor="middle" fill="#2a2a2a" textLength="16.2" lengthAdjust="spacingAndGlyphs" >−41</text>
<text x="270.1" y="438.7" font-family="'Liberation Sans', sans-serif" font-size="8.2" text-anchor="middle" fill="#2a2a2a" textLength="16.2" lengthAdjust="spacingAndGlyphs" >−39</text>
<text x="300.1" y="438.7" font-family="'Liberation Sans', sans-serif" font-size="8.2" text-anchor="middle" fill="#2a2a2a" textLength="16.2" lengthAdjust="spacingAndGlyphs" >−37</text>
<text x="330.1" y="438.7" font-family="'Liberation Sans', sans-serif" font-size="8.2" text-anchor="middle" fill="#2a2a2a" textLength="16.2" lengthAdjust="spacingAndGlyphs" >−35</text>
<text x="205.2" y="431.15" font-family="'Liberation Sans', sans-serif" font-size="8.2" text-anchor="end" fill="#2a2a2a" textLength="16.2" lengthAdjust="spacingAndGlyphs" >−43</text>
<text x="205.2" y="405.77" font-family="'Liberation Sans', sans-serif" font-size="8.2" text-anchor="end" fill="#2a2a2a" textLength="16.2" lengthAdjust="spacingAndGlyphs" >−41</text>
<text x="205.2" y="380.4" font-family="'Liberation Sans', sans-serif" font-size="8.2" text-anchor="end" fill="#2a2a2a" textLength="16.2" lengthAdjust="spacingAndGlyphs" >−39</text>
<text x="205.2" y="355.02" font-family="'Liberation Sans', sans-serif" font-size="8.2" text-anchor="end" fill="#2a2a2a" textLength="16.2" lengthAdjust="spacingAndGlyphs" >−37</text>
<text x="205.2" y="329.65" font-family="'Liberation Sans', sans-serif" font-size="8.2" text-anchor="end" fill="#2a2a2a" textLength="16.2" lengthAdjust="spacingAndGlyphs" >−35</text>
<text x="225.9" y="451.6" font-family="'Liberation Serif', serif" font-size="9.6" text-anchor="start" fill="#1e1e1e" textLength="19.3" lengthAdjust="spacingAndGlyphs" >True</text>
<text x="249.2" y="451.6" font-family="'Liberation Sans', sans-serif" font-size="10.4" text-anchor="start" fill="#2a2a2a" textLength="6.6" lengthAdjust="spacingAndGlyphs" font-style="italic" >E</text>
<text x="254.4" y="453.1" font-family="'Liberation Sans', sans-serif" font-size="7" text-anchor="start" fill="#2a2a2a" textLength="2.5" lengthAdjust="spacingAndGlyphs" font-style="italic" >f</text>
<text x="260.9" y="451.6" font-family="'Liberation Serif', serif" font-size="9.6" text-anchor="start" fill="#1e1e1e" textLength="52.8" lengthAdjust="spacingAndGlyphs" >(meV/atom)</text>
<g transform="translate(181.4,377.45) rotate(-90)">
<text x="-40.1" y="0" font-family="'Liberation Sans', sans-serif" font-size="9.8" text-anchor="start" fill="#2a2a2a" textLength="6" lengthAdjust="spacingAndGlyphs" font-style="italic" >E</text>
<text x="-34.6" y="1.7" font-family="'Liberation Sans', sans-serif" font-size="6.8" text-anchor="start" fill="#2a2a2a" textLength="2.2" lengthAdjust="spacingAndGlyphs" font-style="italic" >f</text>
<text x="-32.9" y="1.6" font-family="'Liberation Sans', sans-serif" font-size="6.4" text-anchor="start" fill="#2a2a2a" textLength="1.2" lengthAdjust="spacingAndGlyphs" >,</text>
<text x="-31.5" y="1.7" font-family="'Liberation Sans', sans-serif" font-size="6.6" text-anchor="start" fill="#2a2a2a" textLength="13.4" lengthAdjust="spacingAndGlyphs" >GNN</text>
<text x="-13" y="0" font-family="'Liberation Serif', serif" font-size="9.6" text-anchor="start" fill="#1e1e1e" textLength="52.1" lengthAdjust="spacingAndGlyphs" >(meV/atom)</text>
</g>
<text x="193.7" y="313.1" font-family="'Liberation Sans', sans-serif" font-size="14.4" text-anchor="start" fill="#2a2a2a" >(j)</text>
<clipPath id="c326_2"><rect x="383.4" y="326.7" width="120" height="101.5"/></clipPath>
<path d="M413.4 428.2v-3.4M413.4 326.7v3.4M443.4 428.2v-3.4M443.4 326.7v3.4M473.4 428.2v-3.4M473.4 326.7v3.4M390.9 428.2v-1.9M390.9 326.7v1.9M398.4 428.2v-1.9M398.4 326.7v1.9M405.9 428.2v-1.9M405.9 326.7v1.9M420.9 428.2v-1.9M420.9 326.7v1.9M428.4 428.2v-1.9M428.4 326.7v1.9M435.9 428.2v-1.9M435.9 326.7v1.9M450.9 428.2v-1.9M450.9 326.7v1.9M458.4 428.2v-1.9M458.4 326.7v1.9M465.9 428.2v-1.9M465.9 326.7v1.9M480.9 428.2v-1.9M480.9 326.7v1.9M488.4 428.2v-1.9M488.4 326.7v1.9M495.9 428.2v-1.9M495.9 326.7v1.9M383.4 402.82h3.4M503.4 402.82h-3.4M383.4 377.45h3.4M503.4 377.45h-3.4M383.4 352.07h3.4M503.4 352.07h-3.4M383.4 421.86h1.9M503.4 421.86h-1.9M383.4 415.51h1.9M503.4 415.51h-1.9M383.4 409.17h1.9M503.4 409.17h-1.9M383.4 396.48h1.9M503.4 396.48h-1.9M383.4 390.14h1.9M503.4 390.14h-1.9M383.4 383.79h1.9M503.4 383.79h-1.9M383.4 371.11h1.9M503.4 371.11h-1.9M383.4 364.76h1.9M503.4 364.76h-1.9M383.4 358.42h1.9M503.4 358.42h-1.9M383.4 345.73h1.9M503.4 345.73h-1.9M383.4 339.39h1.9M503.4 339.39h-1.9M383.4 333.04h1.9M503.4 333.04h-1.9" stroke="#222" stroke-width="0.8" fill="none"/>
<rect x="383.4" y="326.7" width="120" height="101.5" fill="none" stroke="#222" stroke-width="1.0"/>
<g clip-path="url(#c326_2)">
<circle cx="400.62" cy="410.62" r="1.95" fill="#a6ee9a" stroke="#0f1f0f" stroke-width="0.75"/>
<circle cx="401.25" cy="408.75" r="1.95" fill="#a6ee9a" stroke="#0f1f0f" stroke-width="0.75"/>
<circle cx="404.38" cy="407.25" r="1.95" fill="#a6ee9a" stroke="#0f1f0f" stroke-width="0.75"/>
<circle cx="406.88" cy="413.12" r="1.95" fill="#a6ee9a" stroke="#0f1f0f" stroke-width="0.75"/>
<circle cx="410" cy="408.75" r="1.95" fill="#a6ee9a" stroke="#0f1f0f" stroke-width="0.75"/>
<circle cx="410" cy="400.62" r="1.95" fill="#a6ee9a" stroke="#0f1f0f" stroke-width="0.75"/>
<circle cx="411.25" cy="402.5" r="1.95" fill="#a6ee9a" stroke="#0f1f0f" stroke-width="0.75"/>
<circle cx="413.12" cy="405.62" r="1.95" fill="#a6ee9a" stroke="#0f1f0f" stroke-width="0.75"/>
<circle cx="412.5" cy="390.62" r="1.95" fill="#a6ee9a" stroke="#0f1f0f" stroke-width="0.75"/>
<circle cx="415.62" cy="395" r="1.95" fill="#a6ee9a" stroke="#0f1f0f" stroke-width="0.75"/>
<circle cx="417.5" cy="400" r="1.95" fill="#a6ee9a" stroke="#0f1f0f" stroke-width="0.75"/>
<circle cx="419.38" cy="390" r="1.95" fill="#a6ee9a" stroke="#0f1f0f" stroke-width="0.75"/>
<circle cx="420.62" cy="396.88" r="1.95" fill="#a6ee9a" stroke="#0f1f0f" stroke-width="0.75"/>
<circle cx="421.88" cy="400.62" r="1.95" fill="#a6ee9a" stroke="#0f1f0f" stroke-width="0.75"/>
<circle cx="421.88" cy="394.38" r="1.95" fill="#a6ee9a" stroke="#0f1f0f" stroke-width="0.75"/>
<circle cx="423.75" cy="386.25" r="1.95" fill="#a6ee9a" stroke="#0f1f0f" stroke-width="0.75"/>
<circle cx="425" cy="390.62" r="1.95" fill="#a6ee9a" stroke="#0f1f0f" stroke-width="0.75"/>
<circle cx="426.88" cy="393.12" r="1.95" fill="#a6ee9a" stroke="#0f1f0f" stroke-width="0.75"/>
<circle cx="427.5" cy="387.5" r="1.95" fill="#a6ee9a" stroke="#0f1f0f" stroke-width="0.75"/>
<circle cx="430" cy="386.25" r="1.95" fill="#a6ee9a" stroke="#0f1f0f" stroke-width="0.75"/>
<circle cx="431.25" cy="390" r="1.95" fill="#a6ee9a" stroke="#0f1f0f" stroke-width="0.75"/>
<circle cx="431.88" cy="382.5" r="1.95" fill="#a6ee9a" stroke="#0f1f0f" stroke-width="0.75"/>
<circle cx="433.75" cy="383.75" r="1.95" fill="#a6ee9a" stroke="#0f1f0f" stroke-width="0.75"/>
<circle cx="435" cy="387.5" r="1.95" fill="#a6ee9a" stroke="#0f1f0f" stroke-width="0.75"/>
<circle cx="438.12" cy="385" r="1.95" fill="#a6ee9a" stroke="#0f1f0f" stroke-width="0.75"/>
<circle cx="438.75" cy="381.25" r="1.95" fill="#a6ee9a" stroke="#0f1f0f" stroke-width="0.75"/>
<circle cx="440.62" cy="381.88" r="1.95" fill="#a6ee9a" stroke="#0f1f0f" stroke-width="0.75"/>
<circle cx="441.88" cy="383.75" r="1.95" fill="#a6ee9a" stroke="#0f1f0f" stroke-width="0.75"/>
<circle cx="432.5" cy="372.5" r="1.95" fill="#a6ee9a" stroke="#0f1f0f" stroke-width="0.75"/>
<circle cx="436.25" cy="375.62" r="1.95" fill="#a6ee9a" stroke="#0f1f0f" stroke-width="0.75"/>
<circle cx="438.12" cy="377.5" r="1.95" fill="#a6ee9a" stroke="#0f1f0f" stroke-width="0.75"/>
<circle cx="440" cy="374.38" r="1.95" fill="#a6ee9a" stroke="#0f1f0f" stroke-width="0.75"/>
<circle cx="442.5" cy="373.12" r="1.95" fill="#a6ee9a" stroke="#0f1f0f" stroke-width="0.75"/>
<circle cx="444.38" cy="375.62" r="1.95" fill="#a6ee9a" stroke="#0f1f0f" stroke-width="0.75"/>
<circle cx="446.25" cy="377.5" r="1.95" fill="#a6ee9a" stroke="#0f1f0f" stroke-width="0.75"/>
<circle cx="447.5" cy="372.5" r="1.95" fill="#a6ee9a" stroke="#0f1f0f" stroke-width="0.75"/>
<circle cx="450" cy="373.75" r="1.95" fill="#a6ee9a" stroke="#0f1f0f" stroke-width="0.75"/>
<circle cx="451.25" cy="371.25" r="1.95" fill="#a6ee9a" stroke="#0f1f0f" stroke-width="0.75"/>
<circle cx="433.75" cy="378.75" r="1.95" fill="#a6ee9a" stroke="#0f1f0f" stroke-width="0.75"/>
<circle cx="435.62" cy="380" r="1.95" fill="#a6ee9a" stroke="#0f1f0f" stroke-width="0.75"/>
<circle cx="466" cy="353.75" r="1.95" fill="#a6ee9a" stroke="#0f1f0f" stroke-width="0.75"/>
<circle cx="458.75" cy="357.5" r="1.95" fill="#a6ee9a" stroke="#0f1f0f" stroke-width="0.75"/>
<circle cx="460" cy="363.12" r="1.95" fill="#a6ee9a" stroke="#0f1f0f" stroke-width="0.75"/>
<circle cx="456.25" cy="366.88" r="1.95" fill="#a6ee9a" stroke="#0f1f0f" stroke-width="0.75"/>
<circle cx="453.12" cy="368.12" r="1.95" fill="#a6ee9a" stroke="#0f1f0f" stroke-width="0.75"/>
<circle cx="448.75" cy="363.12" r="1.95" fill="#a6ee9a" stroke="#0f1f0f" stroke-width="0.75"/>
<circle cx="450" cy="365.62" r="1.95" fill="#a6ee9a" stroke="#0f1f0f" stroke-width="0.75"/>
<circle cx="450.62" cy="370" r="1.95" fill="#a6ee9a" stroke="#0f1f0f" stroke-width="0.75"/>
<circle cx="448.12" cy="371.25" r="1.95" fill="#a6ee9a" stroke="#0f1f0f" stroke-width="0.75"/>
<circle cx="446.25" cy="374.38" r="1.95" fill="#a6ee9a" stroke="#0f1f0f" stroke-width="0.75"/>
<circle cx="445.62" cy="376.88" r="1.95" fill="#a6ee9a" stroke="#0f1f0f" stroke-width="0.75"/>
<circle cx="443.75" cy="373.75" r="1.95" fill="#a6ee9a" stroke="#0f1f0f" stroke-width="0.75"/>
<circle cx="441.25" cy="371.88" r="1.95" fill="#a6ee9a" stroke="#0f1f0f" stroke-width="0.75"/>
<circle cx="433.12" cy="371.88" r="1.95" fill="#a6ee9a" stroke="#0f1f0f" stroke-width="0.75"/>
<circle cx="436.88" cy="373.75" r="1.95" fill="#a6ee9a" stroke="#0f1f0f" stroke-width="0.75"/>
<circle cx="437.5" cy="376.88" r="1.95" fill="#a6ee9a" stroke="#0f1f0f" stroke-width="0.75"/>
<circle cx="440.62" cy="376.25" r="1.95" fill="#a6ee9a" stroke="#0f1f0f" stroke-width="0.75"/>
<circle cx="442.5" cy="378.12" r="1.95" fill="#a6ee9a" stroke="#0f1f0f" stroke-width="0.75"/>
<circle cx="434.38" cy="378.75" r="1.95" fill="#a6ee9a" stroke="#0f1f0f" stroke-width="0.75"/>
<circle cx="431.25" cy="381.25" r="1.95" fill="#a6ee9a" stroke="#0f1f0f" stroke-width="0.75"/>
<circle cx="435.62" cy="382.5" r="1.95" fill="#a6ee9a" stroke="#0f1f0f" stroke-width="0.75"/>
<circle cx="438.75" cy="385" r="1.95" fill="#a6ee9a" stroke="#0f1f0f" stroke-width="0.75"/>
<circle cx="441.88" cy="383.75" r="1.95" fill="#a6ee9a" stroke="#0f1f0f" stroke-width="0.75"/>
<circle cx="431.88" cy="385.62" r="1.95" fill="#a6ee9a" stroke="#0f1f0f" stroke-width="0.75"/>
<circle cx="435" cy="387.5" r="1.95" fill="#a6ee9a" stroke="#0f1f0f" stroke-width="0.75"/>
<circle cx="430.62" cy="389.38" r="1.95" fill="#a6ee9a" stroke="#0f1f0f" stroke-width="0.75"/>
<circle cx="431.25" cy="391.25" r="1.95" fill="#a6ee9a" stroke="#0f1f0f" stroke-width="0.75"/>
<circle cx="439.38" cy="380.62" r="1.95" fill="#a6ee9a" stroke="#0f1f0f" stroke-width="0.75"/>
<circle cx="429.59" cy="385.09" r="1.95" fill="#a6ee9a" stroke="#0f1f0f" stroke-width="0.75"/>
<circle cx="409.85" cy="400.44" r="1.95" fill="#a6ee9a" stroke="#0f1f0f" stroke-width="0.75"/>
<circle cx="402.98" cy="407.7" r="1.95" fill="#a6ee9a" stroke="#0f1f0f" stroke-width="0.75"/>
<circle cx="450.65" cy="370.89" r="1.95" fill="#a6ee9a" stroke="#0f1f0f" stroke-width="0.75"/>
<circle cx="441.88" cy="374.43" r="1.95" fill="#a6ee9a" stroke="#0f1f0f" stroke-width="0.75"/>
<circle cx="440.48" cy="376.2" r="1.95" fill="#a6ee9a" stroke="#0f1f0f" stroke-width="0.75"/>
<circle cx="410.79" cy="401.26" r="1.95" fill="#a6ee9a" stroke="#0f1f0f" stroke-width="0.75"/>
<circle cx="455.8" cy="365.82" r="1.95" fill="#a6ee9a" stroke="#0f1f0f" stroke-width="0.75"/>
<circle cx="406.6" cy="406.41" r="1.95" fill="#a6ee9a" stroke="#0f1f0f" stroke-width="0.75"/>
<circle cx="442.43" cy="375.53" r="1.95" fill="#a6ee9a" stroke="#0f1f0f" stroke-width="0.75"/>
<circle cx="420.72" cy="390.62" r="1.95" fill="#a6ee9a" stroke="#0f1f0f" stroke-width="0.75"/>
<circle cx="405.32" cy="409.61" r="1.95" fill="#a6ee9a" stroke="#0f1f0f" stroke-width="0.75"/>
<circle cx="407.7" cy="407.51" r="1.95" fill="#a6ee9a" stroke="#0f1f0f" stroke-width="0.75"/>
<circle cx="407.58" cy="403.79" r="1.95" fill="#a6ee9a" stroke="#0f1f0f" stroke-width="0.75"/>
<circle cx="460.78" cy="362.26" r="1.95" fill="#a6ee9a" stroke="#0f1f0f" stroke-width="0.75"/>
<circle cx="427.36" cy="388.46" r="1.95" fill="#a6ee9a" stroke="#0f1f0f" stroke-width="0.75"/>
<circle cx="410.22" cy="401.78" r="1.95" fill="#a6ee9a" stroke="#0f1f0f" stroke-width="0.75"/>
<circle cx="413.96" cy="402.94" r="1.95" fill="#a6ee9a" stroke="#0f1f0f" stroke-width="0.75"/>
<line x1="383.4" y1="428.2" x2="503.4" y2="326.7" stroke="#111" stroke-width="1.15"/>
</g>
<rect x="387.5" y="330.9" width="60.3" height="14.6" rx="1.8" fill="#fff" fill-opacity="0.85" stroke="#c8c8c8" stroke-width="0.85"/>
<circle cx="399.6" cy="338.3" r="1.95" fill="#a6ee9a" stroke="#0f1f0f" stroke-width="0.6"/>
<text x="414.6" y="341.7" font-family="'Liberation Serif', serif" font-size="9" text-anchor="start" fill="#1e1e1e" textLength="29.7" lengthAdjust="spacingAndGlyphs" >6×6×6</text>
<text x="382.7" y="438.7" font-family="'Liberation Sans', sans-serif" font-size="8.2" text-anchor="middle" fill="#2a2a2a" textLength="16.2" lengthAdjust="spacingAndGlyphs" >−32</text>
<text x="412.7" y="438.7" font-family="'Liberation Sans', sans-serif" font-size="8.2" text-anchor="middle" fill="#2a2a2a" textLength="16.2" lengthAdjust="spacingAndGlyphs" >−30</text>
<text x="442.7" y="438.7" font-family="'Liberation Sans', sans-serif" font-size="8.2" text-anchor="middle" fill="#2a2a2a" textLength="16.2" lengthAdjust="spacingAndGlyphs" >−28</text>
<text x="472.7" y="438.7" font-family="'Liberation Sans', sans-serif" font-size="8.2" text-anchor="middle" fill="#2a2a2a" textLength="16.2" lengthAdjust="spacingAndGlyphs" >−26</text>
<text x="502.7" y="438.7" font-family="'Liberation Sans', sans-serif" font-size="8.2" text-anchor="middle" fill="#2a2a2a" textLength="16.2" lengthAdjust="spacingAndGlyphs" >−24</text>
<text x="377.8" y="431.15" font-family="'Liberation Sans', sans-serif" font-size="8.2" text-anchor="end" fill="#2a2a2a" textLength="16.2" lengthAdjust="spacingAndGlyphs" >−32</text>
<text x="377.8" y="405.77" font-family="'Liberation Sans', sans-serif" font-size="8.2" text-anchor="end" fill="#2a2a2a" textLength="16.2" lengthAdjust="spacingAndGlyphs" >−30</text>
<text x="377.8" y="380.4" font-family="'Liberation Sans', sans-serif" font-size="8.2" text-anchor="end" fill="#2a2a2a" textLength="16.2" lengthAdjust="spacingAndGlyphs" >−28</text>
<text x="377.8" y="355.02" font-family="'Liberation Sans', sans-serif" font-size="8.2" text-anchor="end" fill="#2a2a2a" textLength="16.2" lengthAdjust="spacingAndGlyphs" >−26</text>
<text x="377.8" y="329.65" font-family="'Liberation Sans', sans-serif" font-size="8.2" text-anchor="end" fill="#2a2a2a" textLength="16.2" lengthAdjust="spacingAndGlyphs" >−24</text>
<text x="398.5" y="451.6" font-family="'Liberation Serif', serif" font-size="9.6" text-anchor="start" fill="#1e1e1e" textLength="19.3" lengthAdjust="spacingAndGlyphs" >True</text>
<text x="421.8" y="451.6" font-family="'Liberation Sans', sans-serif" font-size="10.4" text-anchor="start" fill="#2a2a2a" textLength="6.6" lengthAdjust="spacingAndGlyphs" font-style="italic" >E</text>
<text x="427" y="453.1" font-family="'Liberation Sans', sans-serif" font-size="7" text-anchor="start" fill="#2a2a2a" textLength="2.5" lengthAdjust="spacingAndGlyphs" font-style="italic" >f</text>
<text x="433.5" y="451.6" font-family="'Liberation Serif', serif" font-size="9.6" text-anchor="start" fill="#1e1e1e" textLength="52.8" lengthAdjust="spacingAndGlyphs" >(meV/atom)</text>
<g transform="translate(354,377.45) rotate(-90)">
<text x="-40.1" y="0" font-family="'Liberation Sans', sans-serif" font-size="9.8" text-anchor="start" fill="#2a2a2a" textLength="6" lengthAdjust="spacingAndGlyphs" font-style="italic" >E</text>
<text x="-34.6" y="1.7" font-family="'Liberation Sans', sans-serif" font-size="6.8" text-anchor="start" fill="#2a2a2a" textLength="2.2" lengthAdjust="spacingAndGlyphs" font-style="italic" >f</text>
<text x="-32.9" y="1.6" font-family="'Liberation Sans', sans-serif" font-size="6.4" text-anchor="start" fill="#2a2a2a" textLength="1.2" lengthAdjust="spacingAndGlyphs" >,</text>
<text x="-31.5" y="1.7" font-family="'Liberation Sans', sans-serif" font-size="6.6" text-anchor="start" fill="#2a2a2a" textLength="13.4" lengthAdjust="spacingAndGlyphs" >GNN</text>
<text x="-13" y="0" font-family="'Liberation Serif', serif" font-size="9.6" text-anchor="start" fill="#1e1e1e" textLength="52.1" lengthAdjust="spacingAndGlyphs" >(meV/atom)</text>
</g>
<text x="364.4" y="313.1" font-family="'Liberation Sans', sans-serif" font-size="14.4" text-anchor="start" fill="#2a2a2a" >(k)</text>
<clipPath id="c326_3"><rect x="555.9" y="326.7" width="120" height="101.5"/></clipPath>
<path d="M585.9 428.2v-3.4M585.9 326.7v3.4M615.9 428.2v-3.4M615.9 326.7v3.4M645.9 428.2v-3.4M645.9 326.7v3.4M563.4 428.2v-1.9M563.4 326.7v1.9M570.9 428.2v-1.9M570.9 326.7v1.9M578.4 428.2v-1.9M578.4 326.7v1.9M593.4 428.2v-1.9M593.4 326.7v1.9M600.9 428.2v-1.9M600.9 326.7v1.9M608.4 428.2v-1.9M608.4 326.7v1.9M623.4 428.2v-1.9M623.4 326.7v1.9M630.9 428.2v-1.9M630.9 326.7v1.9M638.4 428.2v-1.9M638.4 326.7v1.9M653.4 428.2v-1.9M653.4 326.7v1.9M660.9 428.2v-1.9M660.9 326.7v1.9M668.4 428.2v-1.9M668.4 326.7v1.9M555.9 402.82h3.4M675.9 402.82h-3.4M555.9 377.45h3.4M675.9 377.45h-3.4M555.9 352.07h3.4M675.9 352.07h-3.4M555.9 421.86h1.9M675.9 421.86h-1.9M555.9 415.51h1.9M675.9 415.51h-1.9M555.9 409.17h1.9M675.9 409.17h-1.9M555.9 396.48h1.9M675.9 396.48h-1.9M555.9 390.14h1.9M675.9 390.14h-1.9M555.9 383.79h1.9M675.9 383.79h-1.9M555.9 371.11h1.9M675.9 371.11h-1.9M555.9 364.76h1.9M675.9 364.76h-1.9M555.9 358.42h1.9M675.9 358.42h-1.9M555.9 345.73h1.9M675.9 345.73h-1.9M555.9 339.39h1.9M675.9 339.39h-1.9M555.9 333.04h1.9M675.9 333.04h-1.9" stroke="#222" stroke-width="0.8" fill="none"/>
<rect x="555.9" y="326.7" width="120" height="101.5" fill="none" stroke="#222" stroke-width="1.0"/>
<g clip-path="url(#c326_3)">
<circle cx="589.75" cy="403.12" r="1.95" fill="#a6ee9a" stroke="#0f1f0f" stroke-width="0.75"/>
<circle cx="589.75" cy="391.25" r="1.95" fill="#a6ee9a" stroke="#0f1f0f" stroke-width="0.75"/>
<circle cx="593.75" cy="391.25" r="1.95" fill="#a6ee9a" stroke="#0f1f0f" stroke-width="0.75"/>
<circle cx="596.88" cy="389" r="1.95" fill="#a6ee9a" stroke="#0f1f0f" stroke-width="0.75"/>
<circle cx="599.38" cy="394.38" r="1.95" fill="#a6ee9a" stroke="#0f1f0f" stroke-width="0.75"/>
<circle cx="592.5" cy="396.88" r="1.95" fill="#a6ee9a" stroke="#0f1f0f" stroke-width="0.75"/>
<circle cx="604.38" cy="383.12" r="1.95" fill="#a6ee9a" stroke="#0f1f0f" stroke-width="0.75"/>
<circle cx="603.12" cy="387.5" r="1.95" fill="#a6ee9a" stroke="#0f1f0f" stroke-width="0.75"/>
<circle cx="605" cy="391.88" r="1.95" fill="#a6ee9a" stroke="#0f1f0f" stroke-width="0.75"/>
<circle cx="607.5" cy="388.12" r="1.95" fill="#a6ee9a" stroke="#0f1f0f" stroke-width="0.75"/>
<circle cx="608.12" cy="375" r="1.95" fill="#a6ee9a" stroke="#0f1f0f" stroke-width="0.75"/>
<circle cx="609.38" cy="378.12" r="1.95" fill="#a6ee9a" stroke="#0f1f0f" stroke-width="0.75"/>
<circle cx="611.25" cy="381.88" r="1.95" fill="#a6ee9a" stroke="#0f1f0f" stroke-width="0.75"/>
<circle cx="611.88" cy="372.5" r="1.95" fill="#a6ee9a" stroke="#0f1f0f" stroke-width="0.75"/>
<circle cx="613.75" cy="375.62" r="1.95" fill="#a6ee9a" stroke="#0f1f0f" stroke-width="0.75"/>
<circle cx="614.38" cy="385.62" r="1.95" fill="#a6ee9a" stroke="#0f1f0f" stroke-width="0.75"/>
<circle cx="616.25" cy="383.75" r="1.95" fill="#a6ee9a" stroke="#0f1f0f" stroke-width="0.75"/>
<circle cx="616.88" cy="370.62" r="1.95" fill="#a6ee9a" stroke="#0f1f0f" stroke-width="0.75"/>
<circle cx="618.12" cy="380.62" r="1.95" fill="#a6ee9a" stroke="#0f1f0f" stroke-width="0.75"/>
<circle cx="618.75" cy="377.5" r="1.95" fill="#a6ee9a" stroke="#0f1f0f" stroke-width="0.75"/>
<circle cx="621.25" cy="376.88" r="1.95" fill="#a6ee9a" stroke="#0f1f0f" stroke-width="0.75"/>
<circle cx="621.88" cy="366.88" r="1.95" fill="#a6ee9a" stroke="#0f1f0f" stroke-width="0.75"/>
<circle cx="624.38" cy="363.75" r="1.95" fill="#a6ee9a" stroke="#0f1f0f" stroke-width="0.75"/>
<circle cx="626.25" cy="370" r="1.95" fill="#a6ee9a" stroke="#0f1f0f" stroke-width="0.75"/>
<circle cx="627.5" cy="365" r="1.95" fill="#a6ee9a" stroke="#0f1f0f" stroke-width="0.75"/>
<circle cx="629.38" cy="370.62" r="1.95" fill="#a6ee9a" stroke="#0f1f0f" stroke-width="0.75"/>
<circle cx="628.12" cy="360.62" r="1.95" fill="#a6ee9a" stroke="#0f1f0f" stroke-width="0.75"/>
<circle cx="630.62" cy="360" r="1.95" fill="#a6ee9a" stroke="#0f1f0f" stroke-width="0.75"/>
<circle cx="633.12" cy="362.5" r="1.95" fill="#a6ee9a" stroke="#0f1f0f" stroke-width="0.75"/>
<circle cx="633.75" cy="356.25" r="1.95" fill="#a6ee9a" stroke="#0f1f0f" stroke-width="0.75"/>
<circle cx="635.62" cy="358.75" r="1.95" fill="#a6ee9a" stroke="#0f1f0f" stroke-width="0.75"/>
<circle cx="637.5" cy="357.5" r="1.95" fill="#a6ee9a" stroke="#0f1f0f" stroke-width="0.75"/>
<circle cx="640.62" cy="356.88" r="1.95" fill="#a6ee9a" stroke="#0f1f0f" stroke-width="0.75"/>
<circle cx="616.88" cy="374.38" r="1.95" fill="#a6ee9a" stroke="#0f1f0f" stroke-width="0.75"/>
<circle cx="623.12" cy="371.88" r="1.95" fill="#a6ee9a" stroke="#0f1f0f" stroke-width="0.75"/>
<circle cx="645" cy="350.62" r="1.95" fill="#a6ee9a" stroke="#0f1f0f" stroke-width="0.75"/>
<circle cx="643.12" cy="351.88" r="1.95" fill="#a6ee9a" stroke="#0f1f0f" stroke-width="0.75"/>
<circle cx="640" cy="351.5" r="1.95" fill="#a6ee9a" stroke="#0f1f0f" stroke-width="0.75"/>
<circle cx="638.12" cy="353.12" r="1.95" fill="#a6ee9a" stroke="#0f1f0f" stroke-width="0.75"/>
<circle cx="638.75" cy="355.62" r="1.95" fill="#a6ee9a" stroke="#0f1f0f" stroke-width="0.75"/>
<circle cx="636.88" cy="356.88" r="1.95" fill="#a6ee9a" stroke="#0f1f0f" stroke-width="0.75"/>
<circle cx="635.62" cy="358.75" r="1.95" fill="#a6ee9a" stroke="#0f1f0f" stroke-width="0.75"/>
<circle cx="634.38" cy="360.62" r="1.95" fill="#a6ee9a" stroke="#0f1f0f" stroke-width="0.75"/>
<circle cx="641.88" cy="356.25" r="1.95" fill="#a6ee9a" stroke="#0f1f0f" stroke-width="0.75"/>
<circle cx="630" cy="355.62" r="1.95" fill="#a6ee9a" stroke="#0f1f0f" stroke-width="0.75"/>
<circle cx="629.38" cy="358.12" r="1.95" fill="#a6ee9a" stroke="#0f1f0f" stroke-width="0.75"/>
<circle cx="631.88" cy="360" r="1.95" fill="#a6ee9a" stroke="#0f1f0f" stroke-width="0.75"/>
<circle cx="627.5" cy="360.62" r="1.95" fill="#a6ee9a" stroke="#0f1f0f" stroke-width="0.75"/>
<circle cx="624.38" cy="363.12" r="1.95" fill="#a6ee9a" stroke="#0f1f0f" stroke-width="0.75"/>
<circle cx="626.88" cy="365" r="1.95" fill="#a6ee9a" stroke="#0f1f0f" stroke-width="0.75"/>
<circle cx="630.62" cy="364.38" r="1.95" fill="#a6ee9a" stroke="#0f1f0f" stroke-width="0.75"/>
<circle cx="621.25" cy="366.88" r="1.95" fill="#a6ee9a" stroke="#0f1f0f" stroke-width="0.75"/>
<circle cx="624.38" cy="368.12" r="1.95" fill="#a6ee9a" stroke="#0f1f0f" stroke-width="0.75"/>
<circle cx="626.88" cy="370" r="1.95" fill="#a6ee9a" stroke="#0f1f0f" stroke-width="0.75"/>
<circle cx="630" cy="370.62" r="1.95" fill="#a6ee9a" stroke="#0f1f0f" stroke-width="0.75"/>
<circle cx="620" cy="371.25" r="1.95" fill="#a6ee9a" stroke="#0f1f0f" stroke-width="0.75"/>
<circle cx="617.5" cy="369.38" r="1.95" fill="#a6ee9a" stroke="#0f1f0f" stroke-width="0.75"/>
<circle cx="616.88" cy="373.12" r="1.95" fill="#a6ee9a" stroke="#0f1f0f" stroke-width="0.75"/>
<circle cx="621.25" cy="373.75" r="1.95" fill="#a6ee9a" stroke="#0f1f0f" stroke-width="0.75"/>
<circle cx="622.5" cy="376.88" r="1.95" fill="#a6ee9a" stroke="#0f1f0f" stroke-width="0.75"/>
<circle cx="618.75" cy="377.5" r="1.95" fill="#a6ee9a" stroke="#0f1f0f" stroke-width="0.75"/>
<circle cx="617.5" cy="381.25" r="1.95" fill="#a6ee9a" stroke="#0f1f0f" stroke-width="0.75"/>
<circle cx="616.25" cy="383.75" r="1.95" fill="#a6ee9a" stroke="#0f1f0f" stroke-width="0.75"/>
<circle cx="632.5" cy="361.88" r="1.95" fill="#a6ee9a" stroke="#0f1f0f" stroke-width="0.75"/>
<circle cx="628.12" cy="368.12" r="1.95" fill="#a6ee9a" stroke="#0f1f0f" stroke-width="0.75"/>
<circle cx="608.73" cy="380.56" r="1.95" fill="#a6ee9a" stroke="#0f1f0f" stroke-width="0.75"/>
<circle cx="636.14" cy="355.27" r="1.95" fill="#a6ee9a" stroke="#0f1f0f" stroke-width="0.75"/>
<circle cx="606" cy="384.48" r="1.95" fill="#a6ee9a" stroke="#0f1f0f" stroke-width="0.75"/>
<circle cx="608.46" cy="383.53" r="1.95" fill="#a6ee9a" stroke="#0f1f0f" stroke-width="0.75"/>
<circle cx="633.22" cy="363.06" r="1.95" fill="#a6ee9a" stroke="#0f1f0f" stroke-width="0.75"/>
<circle cx="608.32" cy="384.46" r="1.95" fill="#a6ee9a" stroke="#0f1f0f" stroke-width="0.75"/>
<circle cx="609.12" cy="377.55" r="1.95" fill="#a6ee9a" stroke="#0f1f0f" stroke-width="0.75"/>
<circle cx="627.13" cy="368.14" r="1.95" fill="#a6ee9a" stroke="#0f1f0f" stroke-width="0.75"/>
<circle cx="597.59" cy="391.28" r="1.95" fill="#a6ee9a" stroke="#0f1f0f" stroke-width="0.75"/>
<circle cx="639.47" cy="357.04" r="1.95" fill="#a6ee9a" stroke="#0f1f0f" stroke-width="0.75"/>
<circle cx="636.62" cy="359.68" r="1.95" fill="#a6ee9a" stroke="#0f1f0f" stroke-width="0.75"/>
<circle cx="630.69" cy="359.06" r="1.95" fill="#a6ee9a" stroke="#0f1f0f" stroke-width="0.75"/>
<circle cx="642.81" cy="353.36" r="1.95" fill="#a6ee9a" stroke="#0f1f0f" stroke-width="0.75"/>
<circle cx="636.93" cy="356.14" r="1.95" fill="#a6ee9a" stroke="#0f1f0f" stroke-width="0.75"/>
<circle cx="620.41" cy="372.1" r="1.95" fill="#a6ee9a" stroke="#0f1f0f" stroke-width="0.75"/>
<circle cx="616.11" cy="372.62" r="1.95" fill="#a6ee9a" stroke="#0f1f0f" stroke-width="0.75"/>
<circle cx="613.56" cy="375.99" r="1.95" fill="#a6ee9a" stroke="#0f1f0f" stroke-width="0.75"/>
<circle cx="603.07" cy="387.7" r="1.95" fill="#a6ee9a" stroke="#0f1f0f" stroke-width="0.75"/>
<line x1="555.9" y1="428.2" x2="675.9" y2="326.7" stroke="#111" stroke-width="1.15"/>
</g>
<rect x="560" y="330.9" width="60.3" height="14.6" rx="1.8" fill="#fff" fill-opacity="0.85" stroke="#c8c8c8" stroke-width="0.85"/>
<circle cx="572.1" cy="338.3" r="1.95" fill="#a6ee9a" stroke="#0f1f0f" stroke-width="0.6"/>
<text x="587.1" y="341.7" font-family="'Liberation Serif', serif" font-size="9" text-anchor="start" fill="#1e1e1e" textLength="29.7" lengthAdjust="spacingAndGlyphs" >6×6×6</text>
<text x="555.2" y="438.7" font-family="'Liberation Sans', sans-serif" font-size="8.2" text-anchor="middle" fill="#2a2a2a" textLength="16.2" lengthAdjust="spacingAndGlyphs" >−43</text>
<text x="585.2" y="438.7" font-family="'Liberation Sans', sans-serif" font-size="8.2" text-anchor="middle" fill="#2a2a2a" textLength="16.2" lengthAdjust="spacingAndGlyphs" >−41</text>
<text x="615.2" y="438.7" font-family="'Liberation Sans', sans-serif" font-size="8.2" text-anchor="middle" fill="#2a2a2a" textLength="16.2" lengthAdjust="spacingAndGlyphs" >−39</text>
<text x="645.2" y="438.7" font-family="'Liberation Sans', sans-serif" font-size="8.2" text-anchor="middle" fill="#2a2a2a" textLength="16.2" lengthAdjust="spacingAndGlyphs" >−37</text>
<text x="675.2" y="438.7" font-family="'Liberation Sans', sans-serif" font-size="8.2" text-anchor="middle" fill="#2a2a2a" textLength="16.2" lengthAdjust="spacingAndGlyphs" >−35</text>
<text x="550.3" y="431.15" font-family="'Liberation Sans', sans-serif" font-size="8.2" text-anchor="end" fill="#2a2a2a" textLength="16.2" lengthAdjust="spacingAndGlyphs" >−43</text>
<text x="550.3" y="405.77" font-family="'Liberation Sans', sans-serif" font-size="8.2" text-anchor="end" fill="#2a2a2a" textLength="16.2" lengthAdjust="spacingAndGlyphs" >−41</text>
<text x="550.3" y="380.4" font-family="'Liberation Sans', sans-serif" font-size="8.2" text-anchor="end" fill="#2a2a2a" textLength="16.2" lengthAdjust="spacingAndGlyphs" >−39</text>
<text x="550.3" y="355.02" font-family="'Liberation Sans', sans-serif" font-size="8.2" text-anchor="end" fill="#2a2a2a" textLength="16.2" lengthAdjust="spacingAndGlyphs" >−37</text>
<text x="550.3" y="329.65" font-family="'Liberation Sans', sans-serif" font-size="8.2" text-anchor="end" fill="#2a2a2a" textLength="16.2" lengthAdjust="spacingAndGlyphs" >−35</text>
<text x="571" y="451.6" font-family="'Liberation Serif', serif" font-size="9.6" text-anchor="start" fill="#1e1e1e" textLength="19.3" lengthAdjust="spacingAndGlyphs" >True</text>
<text x="594.3" y="451.6" font-family="'Liberation Sans', sans-serif" font-size="10.4" text-anchor="start" fill="#2a2a2a" textLength="6.6" lengthAdjust="spacingAndGlyphs" font-style="italic" >E</text>
<text x="599.5" y="453.1" font-family="'Liberation Sans', sans-serif" font-size="7" text-anchor="start" fill="#2a2a2a" textLength="2.5" lengthAdjust="spacingAndGlyphs" font-style="italic" >f</text>
<text x="606" y="451.6" font-family="'Liberation Serif', serif" font-size="9.6" text-anchor="start" fill="#1e1e1e" textLength="52.8" lengthAdjust="spacingAndGlyphs" >(meV/atom)</text>
<g transform="translate(526.5,377.45) rotate(-90)">
<text x="-40.1" y="0" font-family="'Liberation Sans', sans-serif" font-size="9.8" text-anchor="start" fill="#2a2a2a" textLength="6" lengthAdjust="spacingAndGlyphs" font-style="italic" >E</text>
<text x="-34.6" y="1.7" font-family="'Liberation Sans', sans-serif" font-size="6.8" text-anchor="start" fill="#2a2a2a" textLength="2.2" lengthAdjust="spacingAndGlyphs" font-style="italic" >f</text>
<text x="-32.9" y="1.6" font-family="'Liberation Sans', sans-serif" font-size="6.4" text-anchor="start" fill="#2a2a2a" textLength="1.2" lengthAdjust="spacingAndGlyphs" >,</text>
<text x="-31.5" y="1.7" font-family="'Liberation Sans', sans-serif" font-size="6.6" text-anchor="start" fill="#2a2a2a" textLength="13.4" lengthAdjust="spacingAndGlyphs" >GNN</text>
<text x="-13" y="0" font-family="'Liberation Serif', serif" font-size="9.6" text-anchor="start" fill="#1e1e1e" textLength="52.1" lengthAdjust="spacingAndGlyphs" >(meV/atom)</text>
</g>
<text x="538.5" y="313.1" font-family="'Liberation Sans', sans-serif" font-size="14.4" text-anchor="start" fill="#2a2a2a" >(l)</text>
</svg></body></html>
